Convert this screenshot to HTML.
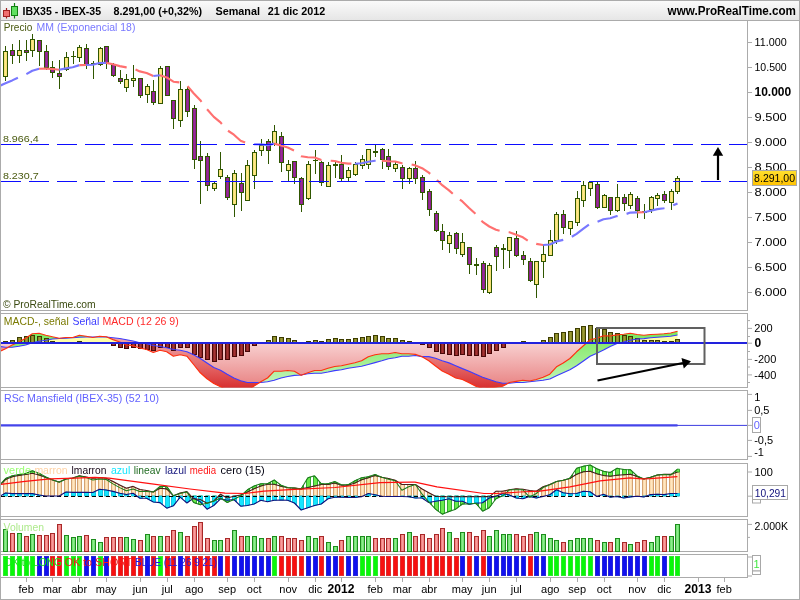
<!DOCTYPE html>
<html><head><meta charset="utf-8"><title>IBX35 - IBEX-35</title>
<style>html,body{margin:0;padding:0;background:#fff;overflow:hidden}svg{display:block}text{font-family:"Liberation Sans", Arial, sans-serif}</style></head><body>
<svg width="800" height="600" viewBox="0 0 800 600">
<defs>
<linearGradient id="pink" gradientUnits="userSpaceOnUse" x1="0" y1="343" x2="0" y2="388"><stop offset="0" stop-color="#f8d0d0"/><stop offset="1" stop-color="#e88080"/></linearGradient>
<linearGradient id="redg" gradientUnits="userSpaceOnUse" x1="0" y1="343" x2="0" y2="388"><stop offset="0" stop-color="#f0a0a0"/><stop offset="1" stop-color="#d83030"/></linearGradient>
<linearGradient id="grng" gradientUnits="userSpaceOnUse" x1="0" y1="325" x2="0" y2="388"><stop offset="0" stop-color="#70e850"/><stop offset="1" stop-color="#c8f4c0"/></linearGradient>
<linearGradient id="ylw" x1="0" y1="0" x2="0" y2="1"><stop offset="0" stop-color="#ffe030"/><stop offset="1" stop-color="#ffc200"/></linearGradient>
<linearGradient id="pur" x1="0" y1="0" x2="1" y2="0"><stop offset="0" stop-color="#7a1a80"/><stop offset="0.5" stop-color="#9a2a98"/><stop offset="1" stop-color="#7a1a80"/></linearGradient>
<linearGradient id="yel" x1="0" y1="0" x2="1" y2="0"><stop offset="0" stop-color="#f2d860"/><stop offset="0.5" stop-color="#fbe98a"/><stop offset="1" stop-color="#f2d860"/></linearGradient>
<linearGradient id="olv" x1="0" y1="0" x2="1" y2="0"><stop offset="0" stop-color="#78781c"/><stop offset="0.5" stop-color="#9a9a34"/><stop offset="1" stop-color="#78781c"/></linearGradient>
<linearGradient id="drd" x1="0" y1="0" x2="1" y2="0"><stop offset="0" stop-color="#7a1818"/><stop offset="0.5" stop-color="#a43434"/><stop offset="1" stop-color="#7a1818"/></linearGradient>
<linearGradient id="pch" x1="0" y1="0" x2="1" y2="0"><stop offset="0" stop-color="#f6cf9c"/><stop offset="0.5" stop-color="#ffe6c0"/><stop offset="1" stop-color="#f6cf9c"/></linearGradient>
<linearGradient id="vg" x1="0" y1="0" x2="1" y2="0"><stop offset="0" stop-color="#5cd85c"/><stop offset="0.5" stop-color="#8cec8c"/><stop offset="1" stop-color="#5cd85c"/></linearGradient>
<linearGradient id="vr" x1="0" y1="0" x2="1" y2="0"><stop offset="0" stop-color="#ea7070"/><stop offset="0.5" stop-color="#f89c9c"/><stop offset="1" stop-color="#ea7070"/></linearGradient>
<linearGradient id="tb" x1="0" y1="0" x2="0" y2="1"><stop offset="0" stop-color="#fbfbfb"/><stop offset="1" stop-color="#e6e6e6"/></linearGradient>
<clipPath id="cp1"><rect x="1" y="21" width="746" height="289"/></clipPath>
<clipPath id="cp2"><rect x="1" y="314" width="746" height="73.5"/></clipPath>
<clipPath id="cp4"><rect x="1" y="464" width="746" height="52"/></clipPath>
</defs>
<rect x="0" y="0" width="800" height="600" fill="#fff"/>
<rect x="0" y="0" width="800" height="20" fill="url(#tb)"/>
<rect x="0.5" y="0.5" width="799" height="599" fill="none" stroke="#ababab"/>
<line x1="0" y1="20.5" x2="800" y2="20.5" stroke="#ababab"/>
<g><line x1="6.5" y1="8" x2="6.5" y2="18.5" stroke="#a02020" stroke-width="1.2"/><rect x="3.5" y="10.5" width="6" height="6" fill="#f07070" stroke="#a02020"/><line x1="14.5" y1="3" x2="14.5" y2="18.5" stroke="#108010" stroke-width="1.2"/><rect x="11.5" y="6.5" width="6" height="9" fill="#60e060" stroke="#108010"/></g>
<text x="22.5" y="15" fill="#000" font-size="11px" font-weight="bold" textLength="78.5" lengthAdjust="spacingAndGlyphs">IBX35 - IBEX-35</text>
<text x="113.5" y="15" fill="#000" font-size="11px" font-weight="bold" textLength="88.5" lengthAdjust="spacingAndGlyphs">8.291,00 (+0,32%)</text>
<text x="215.5" y="15" fill="#000" font-size="11px" font-weight="bold" textLength="44.5" lengthAdjust="spacingAndGlyphs">Semanal</text>
<text x="267.7" y="15" fill="#000" font-size="11px" font-weight="bold" textLength="57.5" lengthAdjust="spacingAndGlyphs">21 dic 2012</text>
<text x="667.6" y="15" fill="#000" font-size="12px" font-weight="bold" textLength="128.4" lengthAdjust="spacingAndGlyphs">www.ProRealTime.com</text>
<line x1="0" y1="310.5" x2="748" y2="310.5" stroke="#ababab"/>
<line x1="747.5" y1="21" x2="747.5" y2="311" stroke="#ababab"/>
<line x1="0" y1="313.5" x2="748" y2="313.5" stroke="#ababab"/>
<line x1="0" y1="387.5" x2="748" y2="387.5" stroke="#ababab"/>
<line x1="747.5" y1="313" x2="747.5" y2="388" stroke="#ababab"/>
<line x1="0" y1="390.5" x2="748" y2="390.5" stroke="#ababab"/>
<line x1="0" y1="459.5" x2="748" y2="459.5" stroke="#ababab"/>
<line x1="747.5" y1="390" x2="747.5" y2="460" stroke="#ababab"/>
<line x1="0" y1="463.5" x2="748" y2="463.5" stroke="#ababab"/>
<line x1="0" y1="516.5" x2="748" y2="516.5" stroke="#ababab"/>
<line x1="747.5" y1="463" x2="747.5" y2="517" stroke="#ababab"/>
<line x1="0" y1="519.5" x2="748" y2="519.5" stroke="#ababab"/>
<line x1="0" y1="551.5" x2="748" y2="551.5" stroke="#ababab"/>
<line x1="747.5" y1="519" x2="747.5" y2="552" stroke="#ababab"/>
<line x1="0" y1="554.5" x2="748" y2="554.5" stroke="#ababab"/>
<line x1="0" y1="577.5" x2="748" y2="577.5" stroke="#ababab"/>
<line x1="747.5" y1="554" x2="747.5" y2="578" stroke="#ababab"/>
<g clip-path="url(#cp1)">
<rect x="5" y="46" width="1" height="35" fill="#2f5600"/>
<rect x="3.5" y="51.5" width="4" height="25" fill="url(#yel)" stroke="#2f5600" stroke-width="1"/>
<rect x="12" y="44" width="1" height="20" fill="#2f5600"/>
<rect x="10.5" y="50.5" width="4" height="5" fill="url(#pur)" stroke="#2f5600" stroke-width="1"/>
<rect x="19" y="40" width="1" height="23" fill="#2f5600"/>
<rect x="17.5" y="50.5" width="4" height="5" fill="url(#yel)" stroke="#2f5600" stroke-width="1"/>
<rect x="26" y="40" width="1" height="21" fill="#2f5600"/>
<rect x="24.5" y="50.5" width="4" height="2" fill="url(#pur)" stroke="#2f5600" stroke-width="1"/>
<rect x="32" y="34" width="1" height="23" fill="#2f5600"/>
<rect x="30.5" y="39.5" width="4" height="11" fill="url(#yel)" stroke="#2f5600" stroke-width="1"/>
<rect x="39" y="40" width="1" height="26" fill="#2f5600"/>
<rect x="37.5" y="40.5" width="4" height="11" fill="url(#pur)" stroke="#2f5600" stroke-width="1"/>
<rect x="46" y="45" width="1" height="25" fill="#2f5600"/>
<rect x="44.5" y="51.5" width="4" height="16" fill="url(#pur)" stroke="#2f5600" stroke-width="1"/>
<rect x="52" y="61" width="1" height="17" fill="#2f5600"/>
<rect x="50.5" y="67.5" width="4" height="5" fill="url(#pur)" stroke="#2f5600" stroke-width="1"/>
<rect x="59" y="60" width="1" height="29" fill="#2f5600"/>
<rect x="57.5" y="73.5" width="4" height="3" fill="url(#pur)" stroke="#2f5600" stroke-width="1"/>
<rect x="66" y="52" width="1" height="19" fill="#2f5600"/>
<rect x="64.5" y="57.5" width="4" height="12" fill="url(#yel)" stroke="#2f5600" stroke-width="1"/>
<rect x="73" y="51" width="1" height="13" fill="#2f5600"/>
<rect x="71" y="56" width="5" height="1" fill="#2f5600"/>
<rect x="79" y="45" width="1" height="17" fill="#2f5600"/>
<rect x="77.5" y="47.5" width="4" height="10" fill="url(#yel)" stroke="#2f5600" stroke-width="1"/>
<rect x="86" y="44" width="1" height="25" fill="#2f5600"/>
<rect x="84.5" y="48.5" width="4" height="16" fill="url(#pur)" stroke="#2f5600" stroke-width="1"/>
<rect x="93" y="61" width="1" height="18" fill="#2f5600"/>
<rect x="91" y="63" width="5" height="1" fill="#2f5600"/>
<rect x="100" y="47" width="1" height="19" fill="#2f5600"/>
<rect x="98.5" y="48.5" width="4" height="16" fill="url(#yel)" stroke="#2f5600" stroke-width="1"/>
<rect x="106" y="46" width="1" height="23" fill="#2f5600"/>
<rect x="104.5" y="46.5" width="4" height="16" fill="url(#pur)" stroke="#2f5600" stroke-width="1"/>
<rect x="113" y="63" width="1" height="14" fill="#2f5600"/>
<rect x="111.5" y="64.5" width="4" height="11" fill="url(#pur)" stroke="#2f5600" stroke-width="1"/>
<rect x="120" y="70" width="1" height="14" fill="#2f5600"/>
<rect x="118.5" y="78.5" width="4" height="3" fill="url(#pur)" stroke="#2f5600" stroke-width="1"/>
<rect x="126" y="74" width="1" height="18" fill="#2f5600"/>
<rect x="124.5" y="79.5" width="4" height="8" fill="url(#yel)" stroke="#2f5600" stroke-width="1"/>
<rect x="133" y="65" width="1" height="22" fill="#2f5600"/>
<rect x="131.5" y="78.5" width="4" height="2" fill="url(#yel)" stroke="#2f5600" stroke-width="1"/>
<rect x="140" y="78" width="1" height="20" fill="#2f5600"/>
<rect x="138.5" y="78.5" width="4" height="17" fill="url(#pur)" stroke="#2f5600" stroke-width="1"/>
<rect x="147" y="84" width="1" height="19" fill="#2f5600"/>
<rect x="145.5" y="86.5" width="4" height="8" fill="url(#yel)" stroke="#2f5600" stroke-width="1"/>
<rect x="153" y="80" width="1" height="25" fill="#2f5600"/>
<rect x="151.5" y="91.5" width="4" height="11" fill="url(#pur)" stroke="#2f5600" stroke-width="1"/>
<rect x="160" y="66" width="1" height="38" fill="#2f5600"/>
<rect x="158.5" y="68.5" width="4" height="35" fill="url(#yel)" stroke="#2f5600" stroke-width="1"/>
<rect x="167" y="66" width="1" height="30" fill="#2f5600"/>
<rect x="165.5" y="66.5" width="4" height="29" fill="url(#pur)" stroke="#2f5600" stroke-width="1"/>
<rect x="173" y="100" width="1" height="29" fill="#2f5600"/>
<rect x="171.5" y="100.5" width="4" height="18" fill="url(#pur)" stroke="#2f5600" stroke-width="1"/>
<rect x="180" y="81" width="1" height="46" fill="#2f5600"/>
<rect x="178.5" y="89.5" width="4" height="31" fill="url(#yel)" stroke="#2f5600" stroke-width="1"/>
<rect x="187" y="87" width="1" height="30" fill="#2f5600"/>
<rect x="185.5" y="89.5" width="4" height="22" fill="url(#pur)" stroke="#2f5600" stroke-width="1"/>
<rect x="194" y="105" width="1" height="64" fill="#2f5600"/>
<rect x="192.5" y="108.5" width="4" height="51" fill="url(#pur)" stroke="#2f5600" stroke-width="1"/>
<rect x="200" y="141" width="1" height="63" fill="#2f5600"/>
<rect x="198.5" y="156.5" width="4" height="4" fill="url(#pur)" stroke="#2f5600" stroke-width="1"/>
<rect x="207" y="153" width="1" height="38" fill="#2f5600"/>
<rect x="205.5" y="156.5" width="4" height="29" fill="url(#pur)" stroke="#2f5600" stroke-width="1"/>
<rect x="214" y="181" width="1" height="10" fill="#2f5600"/>
<rect x="212.5" y="183.5" width="4" height="5" fill="url(#yel)" stroke="#2f5600" stroke-width="1"/>
<rect x="220" y="152" width="1" height="27" fill="#2f5600"/>
<rect x="218.5" y="169.5" width="4" height="7" fill="url(#yel)" stroke="#2f5600" stroke-width="1"/>
<rect x="227" y="175" width="1" height="25" fill="#2f5600"/>
<rect x="225.5" y="177.5" width="4" height="20" fill="url(#pur)" stroke="#2f5600" stroke-width="1"/>
<rect x="234" y="170" width="1" height="47" fill="#2f5600"/>
<rect x="232.5" y="173.5" width="4" height="31" fill="url(#yel)" stroke="#2f5600" stroke-width="1"/>
<rect x="241" y="173" width="1" height="38" fill="#2f5600"/>
<rect x="239.5" y="183.5" width="4" height="9" fill="url(#pur)" stroke="#2f5600" stroke-width="1"/>
<rect x="247" y="160" width="1" height="40" fill="#2f5600"/>
<rect x="245.5" y="165.5" width="4" height="35" fill="url(#yel)" stroke="#2f5600" stroke-width="1"/>
<rect x="254" y="150" width="1" height="39" fill="#2f5600"/>
<rect x="252.5" y="152.5" width="4" height="23" fill="url(#yel)" stroke="#2f5600" stroke-width="1"/>
<rect x="261" y="139" width="1" height="17" fill="#2f5600"/>
<rect x="259.5" y="145.5" width="4" height="5" fill="url(#yel)" stroke="#2f5600" stroke-width="1"/>
<rect x="268" y="139" width="1" height="25" fill="#2f5600"/>
<rect x="266.5" y="141.5" width="4" height="9" fill="url(#pur)" stroke="#2f5600" stroke-width="1"/>
<rect x="274" y="125" width="1" height="21" fill="#2f5600"/>
<rect x="272.5" y="131.5" width="4" height="12" fill="url(#yel)" stroke="#2f5600" stroke-width="1"/>
<rect x="281" y="132" width="1" height="40" fill="#2f5600"/>
<rect x="279.5" y="136.5" width="4" height="26" fill="url(#pur)" stroke="#2f5600" stroke-width="1"/>
<rect x="288" y="160" width="1" height="22" fill="#2f5600"/>
<rect x="286.5" y="164.5" width="4" height="6" fill="url(#yel)" stroke="#2f5600" stroke-width="1"/>
<rect x="294" y="161" width="1" height="23" fill="#2f5600"/>
<rect x="292.5" y="161.5" width="4" height="16" fill="url(#pur)" stroke="#2f5600" stroke-width="1"/>
<rect x="301" y="177" width="1" height="35" fill="#2f5600"/>
<rect x="299.5" y="178.5" width="4" height="26" fill="url(#pur)" stroke="#2f5600" stroke-width="1"/>
<rect x="308" y="161" width="1" height="39" fill="#2f5600"/>
<rect x="306.5" y="164.5" width="4" height="34" fill="url(#yel)" stroke="#2f5600" stroke-width="1"/>
<rect x="315" y="150" width="1" height="24" fill="#2f5600"/>
<rect x="313" y="160" width="5" height="1" fill="#2f5600"/>
<rect x="321" y="161" width="1" height="25" fill="#2f5600"/>
<rect x="319.5" y="162.5" width="4" height="20" fill="url(#pur)" stroke="#2f5600" stroke-width="1"/>
<rect x="328" y="162" width="1" height="24" fill="#2f5600"/>
<rect x="326.5" y="165.5" width="4" height="21" fill="url(#yel)" stroke="#2f5600" stroke-width="1"/>
<rect x="335" y="162" width="1" height="16" fill="#2f5600"/>
<rect x="333" y="164" width="5" height="2" fill="#2f5600"/>
<rect x="341" y="155" width="1" height="26" fill="#2f5600"/>
<rect x="339.5" y="164.5" width="4" height="14" fill="url(#pur)" stroke="#2f5600" stroke-width="1"/>
<rect x="348" y="167" width="1" height="14" fill="#2f5600"/>
<rect x="346.5" y="170.5" width="4" height="7" fill="url(#yel)" stroke="#2f5600" stroke-width="1"/>
<rect x="355" y="162" width="1" height="14" fill="#2f5600"/>
<rect x="353.5" y="164.5" width="4" height="10" fill="url(#yel)" stroke="#2f5600" stroke-width="1"/>
<rect x="362" y="155" width="1" height="14" fill="#2f5600"/>
<rect x="360.5" y="159.5" width="4" height="6" fill="url(#yel)" stroke="#2f5600" stroke-width="1"/>
<rect x="368" y="149" width="1" height="20" fill="#2f5600"/>
<rect x="366.5" y="149.5" width="4" height="15" fill="url(#yel)" stroke="#2f5600" stroke-width="1"/>
<rect x="375" y="145" width="1" height="12" fill="#2f5600"/>
<rect x="373" y="151" width="5" height="2" fill="#2f5600"/>
<rect x="382" y="148" width="1" height="21" fill="#2f5600"/>
<rect x="380.5" y="149.5" width="4" height="10" fill="url(#pur)" stroke="#2f5600" stroke-width="1"/>
<rect x="388" y="149" width="1" height="21" fill="#2f5600"/>
<rect x="386.5" y="156.5" width="4" height="10" fill="url(#pur)" stroke="#2f5600" stroke-width="1"/>
<rect x="395" y="162" width="1" height="10" fill="#2f5600"/>
<rect x="393.5" y="164.5" width="4" height="4" fill="url(#yel)" stroke="#2f5600" stroke-width="1"/>
<rect x="402" y="165" width="1" height="24" fill="#2f5600"/>
<rect x="400.5" y="167.5" width="4" height="11" fill="url(#pur)" stroke="#2f5600" stroke-width="1"/>
<rect x="409" y="167" width="1" height="17" fill="#2f5600"/>
<rect x="407.5" y="168.5" width="4" height="10" fill="url(#yel)" stroke="#2f5600" stroke-width="1"/>
<rect x="415" y="161" width="1" height="23" fill="#2f5600"/>
<rect x="413.5" y="168.5" width="4" height="10" fill="url(#pur)" stroke="#2f5600" stroke-width="1"/>
<rect x="422" y="175" width="1" height="25" fill="#2f5600"/>
<rect x="420.5" y="177.5" width="4" height="15" fill="url(#pur)" stroke="#2f5600" stroke-width="1"/>
<rect x="429" y="189" width="1" height="27" fill="#2f5600"/>
<rect x="427.5" y="191.5" width="4" height="18" fill="url(#pur)" stroke="#2f5600" stroke-width="1"/>
<rect x="436" y="211" width="1" height="21" fill="#2f5600"/>
<rect x="434.5" y="213.5" width="4" height="17" fill="url(#pur)" stroke="#2f5600" stroke-width="1"/>
<rect x="442" y="224" width="1" height="26" fill="#2f5600"/>
<rect x="440.5" y="231.5" width="4" height="9" fill="url(#pur)" stroke="#2f5600" stroke-width="1"/>
<rect x="449" y="232" width="1" height="21" fill="#2f5600"/>
<rect x="447.5" y="235.5" width="4" height="8" fill="url(#yel)" stroke="#2f5600" stroke-width="1"/>
<rect x="456" y="232" width="1" height="22" fill="#2f5600"/>
<rect x="454.5" y="233.5" width="4" height="15" fill="url(#pur)" stroke="#2f5600" stroke-width="1"/>
<rect x="462" y="233" width="1" height="24" fill="#2f5600"/>
<rect x="460.5" y="242.5" width="4" height="12" fill="url(#yel)" stroke="#2f5600" stroke-width="1"/>
<rect x="469" y="247" width="1" height="27" fill="#2f5600"/>
<rect x="467.5" y="247.5" width="4" height="17" fill="url(#pur)" stroke="#2f5600" stroke-width="1"/>
<rect x="476" y="258" width="1" height="17" fill="#2f5600"/>
<rect x="474" y="264" width="5" height="2" fill="#2f5600"/>
<rect x="483" y="261" width="1" height="32" fill="#2f5600"/>
<rect x="481.5" y="263.5" width="4" height="26" fill="url(#pur)" stroke="#2f5600" stroke-width="1"/>
<rect x="489" y="263" width="1" height="31" fill="#2f5600"/>
<rect x="487.5" y="265.5" width="4" height="27" fill="url(#yel)" stroke="#2f5600" stroke-width="1"/>
<rect x="496" y="245" width="1" height="26" fill="#2f5600"/>
<rect x="494.5" y="247.5" width="4" height="9" fill="url(#pur)" stroke="#2f5600" stroke-width="1"/>
<rect x="503" y="244" width="1" height="25" fill="#2f5600"/>
<rect x="501" y="248" width="5" height="2" fill="#2f5600"/>
<rect x="509" y="237" width="1" height="31" fill="#2f5600"/>
<rect x="507.5" y="237.5" width="4" height="13" fill="url(#yel)" stroke="#2f5600" stroke-width="1"/>
<rect x="516" y="231" width="1" height="26" fill="#2f5600"/>
<rect x="514.5" y="238.5" width="4" height="17" fill="url(#pur)" stroke="#2f5600" stroke-width="1"/>
<rect x="523" y="251" width="1" height="14" fill="#2f5600"/>
<rect x="521.5" y="255.5" width="4" height="4" fill="url(#pur)" stroke="#2f5600" stroke-width="1"/>
<rect x="530" y="258" width="1" height="24" fill="#2f5600"/>
<rect x="528.5" y="261.5" width="4" height="19" fill="url(#pur)" stroke="#2f5600" stroke-width="1"/>
<rect x="536" y="261" width="1" height="37" fill="#2f5600"/>
<rect x="534.5" y="261.5" width="4" height="23" fill="url(#yel)" stroke="#2f5600" stroke-width="1"/>
<rect x="543" y="245" width="1" height="33" fill="#2f5600"/>
<rect x="541.5" y="254.5" width="4" height="7" fill="url(#yel)" stroke="#2f5600" stroke-width="1"/>
<rect x="550" y="230" width="1" height="25" fill="#2f5600"/>
<rect x="548.5" y="240.5" width="4" height="15" fill="url(#yel)" stroke="#2f5600" stroke-width="1"/>
<rect x="556" y="212" width="1" height="32" fill="#2f5600"/>
<rect x="554.5" y="214.5" width="4" height="26" fill="url(#yel)" stroke="#2f5600" stroke-width="1"/>
<rect x="563" y="210" width="1" height="24" fill="#2f5600"/>
<rect x="561.5" y="214.5" width="4" height="13" fill="url(#pur)" stroke="#2f5600" stroke-width="1"/>
<rect x="570" y="221" width="1" height="14" fill="#2f5600"/>
<rect x="568.5" y="221.5" width="4" height="7" fill="url(#yel)" stroke="#2f5600" stroke-width="1"/>
<rect x="577" y="191" width="1" height="35" fill="#2f5600"/>
<rect x="575.5" y="198.5" width="4" height="24" fill="url(#yel)" stroke="#2f5600" stroke-width="1"/>
<rect x="583" y="181" width="1" height="26" fill="#2f5600"/>
<rect x="581.5" y="185.5" width="4" height="15" fill="url(#yel)" stroke="#2f5600" stroke-width="1"/>
<rect x="590" y="181" width="1" height="15" fill="#2f5600"/>
<rect x="588.5" y="182.5" width="4" height="6" fill="url(#yel)" stroke="#2f5600" stroke-width="1"/>
<rect x="597" y="182" width="1" height="27" fill="#2f5600"/>
<rect x="595.5" y="184.5" width="4" height="23" fill="url(#pur)" stroke="#2f5600" stroke-width="1"/>
<rect x="604" y="194" width="1" height="13" fill="#2f5600"/>
<rect x="602.5" y="195.5" width="4" height="12" fill="url(#yel)" stroke="#2f5600" stroke-width="1"/>
<rect x="610" y="197" width="1" height="18" fill="#2f5600"/>
<rect x="608.5" y="197.5" width="4" height="13" fill="url(#pur)" stroke="#2f5600" stroke-width="1"/>
<rect x="617" y="184" width="1" height="28" fill="#2f5600"/>
<rect x="615.5" y="197.5" width="4" height="13" fill="url(#yel)" stroke="#2f5600" stroke-width="1"/>
<rect x="624" y="194" width="1" height="17" fill="#2f5600"/>
<rect x="622.5" y="197.5" width="4" height="6" fill="url(#pur)" stroke="#2f5600" stroke-width="1"/>
<rect x="630" y="192" width="1" height="17" fill="#2f5600"/>
<rect x="628.5" y="194.5" width="4" height="11" fill="url(#yel)" stroke="#2f5600" stroke-width="1"/>
<rect x="637" y="196" width="1" height="22" fill="#2f5600"/>
<rect x="635.5" y="198.5" width="4" height="12" fill="url(#pur)" stroke="#2f5600" stroke-width="1"/>
<rect x="644" y="204" width="1" height="15" fill="#2f5600"/>
<rect x="642" y="211" width="5" height="2" fill="#2f5600"/>
<rect x="651" y="196" width="1" height="17" fill="#2f5600"/>
<rect x="649.5" y="197.5" width="4" height="12" fill="url(#yel)" stroke="#2f5600" stroke-width="1"/>
<rect x="657" y="193" width="1" height="13" fill="#2f5600"/>
<rect x="655.5" y="195.5" width="4" height="3" fill="url(#yel)" stroke="#2f5600" stroke-width="1"/>
<rect x="664" y="191" width="1" height="12" fill="#2f5600"/>
<rect x="662.5" y="194.5" width="4" height="6" fill="url(#pur)" stroke="#2f5600" stroke-width="1"/>
<rect x="671" y="189" width="1" height="21" fill="#2f5600"/>
<rect x="669.5" y="191.5" width="4" height="11" fill="url(#yel)" stroke="#2f5600" stroke-width="1"/>
<rect x="677" y="176" width="1" height="18" fill="#2f5600"/>
<rect x="675.5" y="178.5" width="4" height="13" fill="url(#yel)" stroke="#2f5600" stroke-width="1"/>
<polyline points="-1.3,86.2 5.5,83.3 12.2,80.4 18.9,77.2 25.6,74.6 32.3,70.8 39.1,68.8" fill="none" stroke="#7878ff" stroke-width="2.15" stroke-dasharray="21 9.2" stroke-linejoin="round"/>
<polyline points="39.1,68.8 45.8,68.6 52.5,69.0 59.2,69.8" fill="none" stroke="#ff7070" stroke-width="2.15" stroke-dasharray="21 9.2" stroke-linejoin="round"/>
<polyline points="59.2,69.8 65.9,68.4 72.7,67.2 79.4,65.1" fill="none" stroke="#7878ff" stroke-width="2.15" stroke-dasharray="21 9.2" stroke-linejoin="round"/>
<polyline points="79.4,65.1 86.1,65.0" fill="none" stroke="#ff7070" stroke-width="2.15" stroke-dasharray="21 9.2" stroke-linejoin="round"/>
<polyline points="86.1,65.0 92.8,64.8 99.5,63.0 106.2,62.9" fill="none" stroke="#7878ff" stroke-width="2.15" stroke-dasharray="21 9.2" stroke-linejoin="round"/>
<polyline points="106.2,62.9 113.0,64.2 119.7,66.1 126.4,67.4 133.1,68.5 139.8,71.4 146.6,73.0 153.3,76.0" fill="none" stroke="#ff7070" stroke-width="2.15" stroke-dasharray="21 9.2" stroke-linejoin="round"/>
<polyline points="153.3,76.0 160.0,75.2" fill="none" stroke="#7878ff" stroke-width="2.15" stroke-dasharray="21 9.2" stroke-linejoin="round"/>
<polyline points="160.0,75.2 166.7,77.4 173.4,81.7 180.2,82.4 186.9,85.4 193.6,93.2 200.3,100.2 207.0,109.1 213.8,116.9 220.5,122.4 227.2,130.2 233.9,134.7 240.6,140.8 247.4,143.4 254.1,144.3" fill="none" stroke="#ff7070" stroke-width="2.15" stroke-dasharray="21 9.2" stroke-linejoin="round"/>
<polyline points="254.1,144.3 260.8,144.4 267.5,145.1 274.2,143.6" fill="none" stroke="#7878ff" stroke-width="2.15" stroke-dasharray="21 9.2" stroke-linejoin="round"/>
<polyline points="274.2,143.6 281.0,145.5 287.7,147.5 294.4,150.7 301.1,156.3 307.8,157.2 314.6,157.5 321.3,160.1 328.0,160.6 334.7,161.0 341.4,162.8 348.2,163.6 354.9,163.7" fill="none" stroke="#ff7070" stroke-width="2.15" stroke-dasharray="21 9.2" stroke-linejoin="round"/>
<polyline points="354.9,163.7 361.6,163.2 368.3,161.8 375.0,160.8 381.8,160.6" fill="none" stroke="#7878ff" stroke-width="2.15" stroke-dasharray="21 9.2" stroke-linejoin="round"/>
<polyline points="381.8,160.6 388.5,161.2 395.2,161.5 401.9,163.3 408.6,163.8 415.4,165.4 422.1,168.2 428.8,172.6 435.5,178.7 442.2,185.2 449.0,190.4 455.7,196.5 462.4,201.4 469.1,208.0 475.8,214.0 482.6,221.9 489.3,226.5 496.0,229.7 502.7,231.7 509.4,232.3 516.2,234.7 522.9,237.3 529.6,241.9 536.3,243.9 543.1,245.0" fill="none" stroke="#ff7070" stroke-width="2.15" stroke-dasharray="21 9.2" stroke-linejoin="round"/>
<polyline points="543.1,245.0 549.8,244.5 556.5,241.4 563.2,239.9 569.9,237.9 576.6,233.8 583.4,228.7 590.1,223.7 596.8,222.0 603.5,219.2 610.2,218.3 617.0,216.1 623.7,214.8 630.4,212.6 637.1,212.4" fill="none" stroke="#7878ff" stroke-width="2.15" stroke-dasharray="21 9.2" stroke-linejoin="round"/>
<polyline points="637.1,212.4 643.9,212.3" fill="none" stroke="#ff7070" stroke-width="2.15" stroke-dasharray="21 9.2" stroke-linejoin="round"/>
<polyline points="643.9,212.3 650.6,210.8 657.3,209.1 664.0,208.2 670.7,206.4 677.5,203.5" fill="none" stroke="#7878ff" stroke-width="2.15" stroke-dasharray="21 9.2" stroke-linejoin="round"/>
<line x1="1" y1="144.5" x2="747" y2="144.5" stroke="#0c0cff" stroke-width="1.1" stroke-dasharray="20 8"/>
<line x1="1" y1="181.5" x2="747" y2="181.5" stroke="#0c0cff" stroke-width="1.1" stroke-dasharray="20 8"/>
</g>
<text x="3.75" y="31" fill="#4a5a10" font-size="11px" textLength="28.5" lengthAdjust="spacingAndGlyphs">Precio</text>
<text x="36.6" y="31" fill="#7878ff" font-size="11px" textLength="98.8" lengthAdjust="spacingAndGlyphs">MM (Exponencial 18)</text>
<text x="2.9" y="141.9" fill="#4a5a10" font-size="9.7px" textLength="35.8" lengthAdjust="spacingAndGlyphs">8.966,4</text>
<text x="2.9" y="178.9" fill="#4a5a10" font-size="9.7px" textLength="35.8" lengthAdjust="spacingAndGlyphs">8.230,7</text>
<text x="3" y="307.6" fill="#3a4a10" font-size="11px" textLength="92.7" lengthAdjust="spacingAndGlyphs">© ProRealTime.com</text>
<line x1="718" y1="180" x2="718" y2="154" stroke="#000" stroke-width="2.2"/><polygon points="718,147 712.8,155.8 723.2,155.8" fill="#000"/>
<line x1="748" y1="292.5" x2="752" y2="292.5" stroke="#ababab"/>
<text x="754.5" y="295.9" fill="#000" font-size="11px" textLength="32.2" lengthAdjust="spacingAndGlyphs">6.000</text>
<line x1="748" y1="267.5" x2="752" y2="267.5" stroke="#ababab"/>
<text x="754.5" y="270.9" fill="#000" font-size="11px" textLength="32.2" lengthAdjust="spacingAndGlyphs">6.500</text>
<line x1="748" y1="242.5" x2="752" y2="242.5" stroke="#ababab"/>
<text x="754.5" y="245.89999999999998" fill="#000" font-size="11px" textLength="32.2" lengthAdjust="spacingAndGlyphs">7.000</text>
<line x1="748" y1="217.5" x2="752" y2="217.5" stroke="#ababab"/>
<text x="754.5" y="220.89999999999998" fill="#000" font-size="11px" textLength="32.2" lengthAdjust="spacingAndGlyphs">7.500</text>
<line x1="748" y1="192.5" x2="752" y2="192.5" stroke="#ababab"/>
<text x="754.5" y="195.89999999999998" fill="#000" font-size="11px" textLength="32.2" lengthAdjust="spacingAndGlyphs">8.000</text>
<line x1="748" y1="167.5" x2="752" y2="167.5" stroke="#ababab"/>
<text x="754.5" y="170.89999999999998" fill="#000" font-size="11px" textLength="32.2" lengthAdjust="spacingAndGlyphs">8.500</text>
<line x1="748" y1="142.5" x2="752" y2="142.5" stroke="#ababab"/>
<text x="754.5" y="145.89999999999998" fill="#000" font-size="11px" textLength="32.2" lengthAdjust="spacingAndGlyphs">9.000</text>
<line x1="748" y1="117.5" x2="752" y2="117.5" stroke="#ababab"/>
<text x="754.5" y="120.9" fill="#000" font-size="11px" textLength="32.2" lengthAdjust="spacingAndGlyphs">9.500</text>
<line x1="748" y1="92.5" x2="752" y2="92.5" stroke="#ababab"/>
<text x="754.5" y="95.8" fill="#000" font-size="12px" font-weight="bold" textLength="36.7" lengthAdjust="spacingAndGlyphs">10.000</text>
<line x1="748" y1="67.5" x2="752" y2="67.5" stroke="#ababab"/>
<text x="754.5" y="70.9" fill="#000" font-size="11px" textLength="32.2" lengthAdjust="spacingAndGlyphs">10.500</text>
<line x1="748" y1="42.5" x2="752" y2="42.5" stroke="#ababab"/>
<text x="754.5" y="45.900000000000006" fill="#000" font-size="11px" textLength="32.2" lengthAdjust="spacingAndGlyphs">11.000</text>
<rect x="752.5" y="170.5" width="44" height="15" fill="url(#ylw)" stroke="#a8a8a8"/>
<text x="754.1" y="181.8" fill="#000" font-size="11px" textLength="41" lengthAdjust="spacingAndGlyphs">8.291,00</text>
<g clip-path="url(#cp2)">
<polygon points="0.5,343.0 0.5,351.2 5.5,348.8 12.2,347.2 18.9,346.2 25.6,345.0 32.3,343.0 39.1,343.0 45.8,343.0 52.5,343.0 59.2,343.0 65.9,343.0 72.7,343.0 79.4,343.0 86.1,343.0 92.8,343.0 99.5,343.0 106.2,343.0 113.0,343.0 119.7,343.0 126.4,345.0 133.1,345.8 139.8,348.0 146.6,349.5 153.3,352.5 160.0,350.2 166.7,351.8 173.4,356.2 180.2,354.8 186.9,356.2 193.6,364.5 200.3,372.8 207.0,378.8 213.8,383.5 220.5,386.7 227.2,390.7 233.9,391.5 240.6,393.0 247.4,391.0 254.1,386.0 260.8,382.5 267.5,381.8 274.2,380.2 281.0,378.0 287.7,376.5 294.4,375.4 301.1,375.3 307.8,373.8 314.6,373.2 321.3,373.2 328.0,372.0 334.7,370.6 341.4,369.8 348.2,368.2 354.9,367.2 361.6,366.3 368.3,364.5 375.0,362.6 381.8,360.8 388.5,358.8 395.2,357.8 401.9,356.2 408.6,356.2 415.4,355.5 422.1,356.7 428.8,360.8 435.5,366.0 442.2,371.0 449.0,374.2 455.7,378.0 462.4,379.5 469.1,382.8 475.8,386.2 482.6,388.5 489.3,387.8 496.0,387.3 502.7,386.2 509.4,383.2 516.2,382.5 522.9,382.5 529.6,381.8 536.3,381.0 543.1,380.2 549.8,379.0 556.5,375.8 563.2,372.8 569.9,369.8 576.6,365.7 583.4,361.0 590.1,356.2 596.8,353.2 603.5,350.0 610.2,346.5 617.0,343.5 623.7,343.0 630.4,343.0 637.1,343.0 643.9,343.0 650.6,343.0 657.3,343.0 664.0,343.0 670.7,343.0 677.5,343.0 677.5,343.0" fill="url(#pink)" />
<polygon points="0.5,343.0 0.5,343.0 5.5,343.0 12.2,343.0 18.9,342.0 25.6,338.2 32.3,333.8 39.1,333.3 45.8,335.2 52.5,336.8 59.2,338.2 65.9,337.5 72.7,337.5 79.4,335.2 86.1,336.3 92.8,337.0 99.5,336.3 106.2,336.8 113.0,337.7 119.7,338.5 126.4,339.8 133.1,341.0 139.8,342.8 146.6,343.0 153.3,343.0 160.0,343.0 166.7,343.0 173.4,343.0 180.2,343.0 186.9,343.0 193.6,343.0 200.3,343.0 207.0,343.0 213.8,343.0 220.5,343.0 227.2,343.0 233.9,343.0 240.6,343.0 247.4,343.0 254.1,343.0 260.8,343.0 267.5,343.0 274.2,343.0 281.0,343.0 287.7,343.0 294.4,343.0 301.1,343.0 307.8,343.0 314.6,343.0 321.3,343.0 328.0,343.0 334.7,343.0 341.4,343.0 348.2,343.0 354.9,343.0 361.6,343.0 368.3,343.0 375.0,343.0 381.8,343.0 388.5,343.0 395.2,343.0 401.9,343.0 408.6,343.0 415.4,343.0 422.1,343.0 428.8,343.0 435.5,343.0 442.2,343.0 449.0,343.0 455.7,343.0 462.4,343.0 469.1,343.0 475.8,343.0 482.6,343.0 489.3,343.0 496.0,343.0 502.7,343.0 509.4,343.0 516.2,343.0 522.9,343.0 529.6,343.0 536.3,343.0 543.1,343.0 549.8,343.0 556.5,343.0 563.2,343.0 569.9,343.0 576.6,343.0 583.4,343.0 590.1,339.8 596.8,338.2 603.5,335.7 610.2,336.0 617.0,334.9 623.7,334.2 630.4,333.3 637.1,334.5 643.9,335.2 650.6,334.5 657.3,334.2 664.0,333.8 670.7,333.0 677.5,331.2 677.5,343.0" fill="#ffffa8" />
<polygon points="0.5,351.2 5.5,348.8 8.1,347.2 8.1,347.2 5.5,347.2 0.5,346.6" fill="url(#redg)" />
<polygon points="8.1,347.2 12.2,345.0 18.9,342.0 25.6,338.2 32.3,333.8 39.1,333.3 45.8,335.2 52.5,336.8 59.2,338.2 65.9,337.5 72.7,337.5 79.4,335.2 86.1,336.3 90.0,337.0 90.0,337.0 86.1,337.0 79.4,337.2 72.7,337.8 65.9,338.2 59.2,338.5 52.5,339.0 45.8,340.2 39.1,341.2 32.3,342.8 25.6,345.0 18.9,346.2 12.2,347.2 8.1,347.2" fill="url(#grng)" />
<polygon points="90.0,337.0 92.8,337.5 95.6,337.0 95.6,337.0 92.8,337.0 90.0,337.0" fill="url(#redg)" />
<polygon points="95.6,337.0 99.5,336.3 106.2,336.8 107.0,337.1 107.0,337.1 106.2,337.0 99.5,337.0 95.6,337.0" fill="url(#grng)" />
<polygon points="107.0,337.1 113.0,339.6 119.7,342.0 126.4,345.0 133.1,345.8 139.8,348.0 146.6,349.5 153.3,352.5 160.0,350.2 166.7,351.8 173.4,356.2 180.2,354.8 186.9,356.2 193.6,364.5 200.3,372.8 207.0,378.8 213.8,383.5 220.5,386.7 227.2,390.7 233.9,391.5 240.6,393.0 247.4,391.0 254.1,386.0 259.6,382.5 259.6,382.5 254.1,382.5 247.4,382.5 240.6,380.7 233.9,378.0 227.2,374.2 220.5,370.2 213.8,367.5 207.0,363.0 200.3,358.5 193.6,354.8 186.9,351.8 180.2,350.2 173.4,349.5 166.7,347.7 160.0,346.5 153.3,345.5 146.6,343.8 139.8,342.8 133.1,341.0 126.4,339.8 119.7,338.5 113.0,337.7 107.0,337.1" fill="url(#redg)" />
<polygon points="259.6,382.5 260.8,381.8 267.5,378.0 274.2,371.2 281.0,371.2 287.7,370.5 294.4,371.2 300.7,375.0 300.7,375.0 294.4,375.4 287.7,376.5 281.0,378.0 274.2,380.2 267.5,381.8 260.8,382.5 259.6,382.5" fill="url(#grng)" />
<polygon points="300.7,375.0 301.1,375.3 302.6,374.7 302.6,374.7 301.1,375.0 300.7,375.0" fill="url(#redg)" />
<polygon points="302.6,374.7 307.8,372.8 314.6,370.5 321.3,370.5 328.0,368.2 334.7,366.5 341.4,365.7 348.2,364.2 354.9,362.7 361.6,360.8 368.3,356.7 375.0,354.8 381.8,353.7 388.5,353.7 395.2,352.5 401.9,353.7 408.6,353.7 415.4,354.4 421.3,356.4 421.3,356.4 415.4,355.5 408.6,356.2 401.9,356.2 395.2,357.8 388.5,358.8 381.8,360.8 375.0,362.6 368.3,364.5 361.6,366.3 354.9,367.2 348.2,368.2 341.4,369.8 334.7,370.6 328.0,372.0 321.3,373.2 314.6,373.2 307.8,373.8 302.6,374.7" fill="url(#grng)" />
<polygon points="421.3,356.4 422.1,356.7 428.8,360.8 435.5,366.0 442.2,371.0 449.0,374.2 455.7,378.0 462.4,379.5 469.1,382.8 475.8,386.2 482.6,388.5 489.3,387.8 496.0,387.3 502.7,386.2 508.1,383.2 508.1,383.2 502.7,383.2 496.0,381.8 489.3,379.5 482.6,377.2 475.8,374.2 469.1,371.2 462.4,368.6 455.7,365.7 449.0,362.9 442.2,360.8 435.5,358.2 428.8,356.6 422.1,356.6 421.3,356.4" fill="url(#redg)" />
<polygon points="508.1,383.2 509.4,382.5 516.2,381.4 522.9,380.2 529.6,381.0 536.3,379.5 543.1,377.2 549.8,374.2 556.5,366.8 563.2,363.0 569.9,358.5 576.6,351.8 583.4,345.8 590.1,339.8 596.8,338.2 603.5,335.7 610.2,336.0 617.0,334.9 623.7,334.2 630.4,333.3 637.1,334.5 643.9,335.2 650.6,334.5 657.3,334.2 664.0,333.8 670.7,333.0 677.5,331.2 677.5,335.0 670.7,336.3 664.0,336.8 657.3,337.2 650.6,337.8 643.9,338.6 637.1,339.0 630.4,340.2 623.7,342.0 617.0,343.5 610.2,346.5 603.5,350.0 596.8,353.2 590.1,356.2 583.4,361.0 576.6,365.7 569.9,369.8 563.2,372.8 556.5,375.8 549.8,379.0 543.1,380.2 536.3,381.0 529.6,381.8 522.9,382.5 516.2,382.5 509.4,383.2 508.1,383.2" fill="url(#grng)" />
<rect x="3.5" y="341.5" width="4" height="1.5" fill="url(#olv)" stroke="#3c3c00" stroke-width="1"/>
<rect x="10.5" y="340.5" width="4" height="2.5" fill="url(#olv)" stroke="#3c3c00" stroke-width="1"/>
<rect x="17.5" y="337.5" width="4" height="5.5" fill="url(#olv)" stroke="#3c3c00" stroke-width="1"/>
<rect x="24.5" y="336.5" width="4" height="6.5" fill="url(#olv)" stroke="#3c3c00" stroke-width="1"/>
<rect x="30.5" y="335.5" width="4" height="7.5" fill="url(#olv)" stroke="#3c3c00" stroke-width="1"/>
<rect x="37.5" y="336.5" width="4" height="6.5" fill="url(#olv)" stroke="#3c3c00" stroke-width="1"/>
<rect x="44.5" y="338.5" width="4" height="4.5" fill="url(#olv)" stroke="#3c3c00" stroke-width="1"/>
<rect x="50.5" y="341.5" width="4" height="1.5" fill="url(#olv)" stroke="#3c3c00" stroke-width="1"/>
<rect x="77.5" y="341.5" width="4" height="1.5" fill="url(#olv)" stroke="#3c3c00" stroke-width="1"/>
<rect x="111.5" y="343" width="4" height="2.5" fill="url(#drd)" stroke="#480808" stroke-width="1"/>
<rect x="118.5" y="343" width="4" height="4.5" fill="url(#drd)" stroke="#480808" stroke-width="1"/>
<rect x="124.5" y="343" width="4" height="5.5" fill="url(#drd)" stroke="#480808" stroke-width="1"/>
<rect x="131.5" y="343" width="4" height="4.5" fill="url(#drd)" stroke="#480808" stroke-width="1"/>
<rect x="138.5" y="343" width="4" height="5.5" fill="url(#drd)" stroke="#480808" stroke-width="1"/>
<rect x="145.5" y="343" width="4" height="6.5" fill="url(#drd)" stroke="#480808" stroke-width="1"/>
<rect x="151.5" y="343" width="4" height="7.5" fill="url(#drd)" stroke="#480808" stroke-width="1"/>
<rect x="158.5" y="343" width="4" height="4.5" fill="url(#drd)" stroke="#480808" stroke-width="1"/>
<rect x="165.5" y="343" width="4" height="4.5" fill="url(#drd)" stroke="#480808" stroke-width="1"/>
<rect x="171.5" y="343" width="4" height="7.5" fill="url(#drd)" stroke="#480808" stroke-width="1"/>
<rect x="178.5" y="343" width="4" height="4.5" fill="url(#drd)" stroke="#480808" stroke-width="1"/>
<rect x="185.5" y="343" width="4" height="4.5" fill="url(#drd)" stroke="#480808" stroke-width="1"/>
<rect x="192.5" y="343" width="4" height="11.5" fill="url(#drd)" stroke="#480808" stroke-width="1"/>
<rect x="198.5" y="343" width="4" height="14.5" fill="url(#drd)" stroke="#480808" stroke-width="1"/>
<rect x="205.5" y="343" width="4" height="16.5" fill="url(#drd)" stroke="#480808" stroke-width="1"/>
<rect x="212.5" y="343" width="4" height="18.5" fill="url(#drd)" stroke="#480808" stroke-width="1"/>
<rect x="218.5" y="343" width="4" height="16.5" fill="url(#drd)" stroke="#480808" stroke-width="1"/>
<rect x="225.5" y="343" width="4" height="16.5" fill="url(#drd)" stroke="#480808" stroke-width="1"/>
<rect x="232.5" y="343" width="4" height="13.5" fill="url(#drd)" stroke="#480808" stroke-width="1"/>
<rect x="239.5" y="343" width="4" height="12.5" fill="url(#drd)" stroke="#480808" stroke-width="1"/>
<rect x="245.5" y="343" width="4" height="8.5" fill="url(#drd)" stroke="#480808" stroke-width="1"/>
<rect x="252.5" y="343" width="4" height="2.5" fill="url(#drd)" stroke="#480808" stroke-width="1"/>
<rect x="266.5" y="340.5" width="4" height="2.5" fill="url(#olv)" stroke="#3c3c00" stroke-width="1"/>
<rect x="272.5" y="336.5" width="4" height="6.5" fill="url(#olv)" stroke="#3c3c00" stroke-width="1"/>
<rect x="279.5" y="337.5" width="4" height="5.5" fill="url(#olv)" stroke="#3c3c00" stroke-width="1"/>
<rect x="286.5" y="338.5" width="4" height="4.5" fill="url(#olv)" stroke="#3c3c00" stroke-width="1"/>
<rect x="292.5" y="340.5" width="4" height="2.5" fill="url(#olv)" stroke="#3c3c00" stroke-width="1"/>
<rect x="306.5" y="341.5" width="4" height="1.5" fill="url(#olv)" stroke="#3c3c00" stroke-width="1"/>
<rect x="313.5" y="340.5" width="4" height="2.5" fill="url(#olv)" stroke="#3c3c00" stroke-width="1"/>
<rect x="319.5" y="341.5" width="4" height="1.5" fill="url(#olv)" stroke="#3c3c00" stroke-width="1"/>
<rect x="326.5" y="339.5" width="4" height="3.5" fill="url(#olv)" stroke="#3c3c00" stroke-width="1"/>
<rect x="333.5" y="338.5" width="4" height="4.5" fill="url(#olv)" stroke="#3c3c00" stroke-width="1"/>
<rect x="339.5" y="339.5" width="4" height="3.5" fill="url(#olv)" stroke="#3c3c00" stroke-width="1"/>
<rect x="346.5" y="339.5" width="4" height="3.5" fill="url(#olv)" stroke="#3c3c00" stroke-width="1"/>
<rect x="353.5" y="338.5" width="4" height="4.5" fill="url(#olv)" stroke="#3c3c00" stroke-width="1"/>
<rect x="360.5" y="337.5" width="4" height="5.5" fill="url(#olv)" stroke="#3c3c00" stroke-width="1"/>
<rect x="366.5" y="336.5" width="4" height="6.5" fill="url(#olv)" stroke="#3c3c00" stroke-width="1"/>
<rect x="373.5" y="335.5" width="4" height="7.5" fill="url(#olv)" stroke="#3c3c00" stroke-width="1"/>
<rect x="380.5" y="336.5" width="4" height="6.5" fill="url(#olv)" stroke="#3c3c00" stroke-width="1"/>
<rect x="386.5" y="338.5" width="4" height="4.5" fill="url(#olv)" stroke="#3c3c00" stroke-width="1"/>
<rect x="393.5" y="338.5" width="4" height="4.5" fill="url(#olv)" stroke="#3c3c00" stroke-width="1"/>
<rect x="400.5" y="340.5" width="4" height="2.5" fill="url(#olv)" stroke="#3c3c00" stroke-width="1"/>
<rect x="407.5" y="341.5" width="4" height="1.5" fill="url(#olv)" stroke="#3c3c00" stroke-width="1"/>
<rect x="420.5" y="343" width="4" height="1.5" fill="url(#drd)" stroke="#480808" stroke-width="1"/>
<rect x="427.5" y="343" width="4" height="4.5" fill="url(#drd)" stroke="#480808" stroke-width="1"/>
<rect x="434.5" y="343" width="4" height="8.5" fill="url(#drd)" stroke="#480808" stroke-width="1"/>
<rect x="440.5" y="343" width="4" height="10.5" fill="url(#drd)" stroke="#480808" stroke-width="1"/>
<rect x="447.5" y="343" width="4" height="11.5" fill="url(#drd)" stroke="#480808" stroke-width="1"/>
<rect x="454.5" y="343" width="4" height="12.5" fill="url(#drd)" stroke="#480808" stroke-width="1"/>
<rect x="460.5" y="343" width="4" height="11.5" fill="url(#drd)" stroke="#480808" stroke-width="1"/>
<rect x="467.5" y="343" width="4" height="12.5" fill="url(#drd)" stroke="#480808" stroke-width="1"/>
<rect x="474.5" y="343" width="4" height="12.5" fill="url(#drd)" stroke="#480808" stroke-width="1"/>
<rect x="481.5" y="343" width="4" height="13.5" fill="url(#drd)" stroke="#480808" stroke-width="1"/>
<rect x="487.5" y="343" width="4" height="10.5" fill="url(#drd)" stroke="#480808" stroke-width="1"/>
<rect x="494.5" y="343" width="4" height="7.5" fill="url(#drd)" stroke="#480808" stroke-width="1"/>
<rect x="501.5" y="343" width="4" height="4.5" fill="url(#drd)" stroke="#480808" stroke-width="1"/>
<rect x="521.5" y="341.5" width="4" height="1.5" fill="url(#olv)" stroke="#3c3c00" stroke-width="1"/>
<rect x="541.5" y="340.5" width="4" height="2.5" fill="url(#olv)" stroke="#3c3c00" stroke-width="1"/>
<rect x="548.5" y="337.5" width="4" height="5.5" fill="url(#olv)" stroke="#3c3c00" stroke-width="1"/>
<rect x="554.5" y="333.5" width="4" height="9.5" fill="url(#olv)" stroke="#3c3c00" stroke-width="1"/>
<rect x="561.5" y="332.5" width="4" height="10.5" fill="url(#olv)" stroke="#3c3c00" stroke-width="1"/>
<rect x="568.5" y="331.5" width="4" height="11.5" fill="url(#olv)" stroke="#3c3c00" stroke-width="1"/>
<rect x="575.5" y="328.5" width="4" height="14.5" fill="url(#olv)" stroke="#3c3c00" stroke-width="1"/>
<rect x="581.5" y="326.5" width="4" height="16.5" fill="url(#olv)" stroke="#3c3c00" stroke-width="1"/>
<rect x="588.5" y="325.5" width="4" height="17.5" fill="url(#olv)" stroke="#3c3c00" stroke-width="1"/>
<rect x="595.5" y="328.5" width="4" height="14.5" fill="url(#olv)" stroke="#3c3c00" stroke-width="1"/>
<rect x="602.5" y="329.5" width="4" height="13.5" fill="url(#olv)" stroke="#3c3c00" stroke-width="1"/>
<rect x="608.5" y="332.5" width="4" height="10.5" fill="url(#olv)" stroke="#3c3c00" stroke-width="1"/>
<rect x="615.5" y="333.5" width="4" height="9.5" fill="url(#olv)" stroke="#3c3c00" stroke-width="1"/>
<rect x="622.5" y="335.5" width="4" height="7.5" fill="url(#olv)" stroke="#3c3c00" stroke-width="1"/>
<rect x="628.5" y="336.5" width="4" height="6.5" fill="url(#olv)" stroke="#3c3c00" stroke-width="1"/>
<rect x="635.5" y="338.5" width="4" height="4.5" fill="url(#olv)" stroke="#3c3c00" stroke-width="1"/>
<rect x="642.5" y="340.5" width="4" height="2.5" fill="url(#olv)" stroke="#3c3c00" stroke-width="1"/>
<rect x="649.5" y="340.5" width="4" height="2.5" fill="url(#olv)" stroke="#3c3c00" stroke-width="1"/>
<rect x="655.5" y="340.5" width="4" height="2.5" fill="url(#olv)" stroke="#3c3c00" stroke-width="1"/>
<rect x="662.5" y="341.5" width="4" height="1.5" fill="url(#olv)" stroke="#3c3c00" stroke-width="1"/>
<rect x="669.5" y="341.5" width="4" height="1.5" fill="url(#olv)" stroke="#3c3c00" stroke-width="1"/>
<rect x="675.5" y="339.5" width="4" height="3.5" fill="url(#olv)" stroke="#3c3c00" stroke-width="1"/>
<polyline points="0.5,346.6 5.5,347.2 12.2,347.2 18.9,346.2 25.6,345.0 32.3,342.8 39.1,341.2 45.8,340.2 52.5,339.0 59.2,338.5 65.9,338.2 72.7,337.8 79.4,337.2 86.1,337.0 92.8,337.0 99.5,337.0 106.2,337.0 113.0,337.7 119.7,338.5 126.4,339.8 133.1,341.0 139.8,342.8 146.6,343.8 153.3,345.5 160.0,346.5 166.7,347.7 173.4,349.5 180.2,350.2 186.9,351.8 193.6,354.8 200.3,358.5 207.0,363.0 213.8,367.5 220.5,370.2 227.2,374.2 233.9,378.0 240.6,380.7 247.4,382.5 254.1,382.5 260.8,382.5 267.5,381.8 274.2,380.2 281.0,378.0 287.7,376.5 294.4,375.4 301.1,375.0 307.8,373.8 314.6,373.2 321.3,373.2 328.0,372.0 334.7,370.6 341.4,369.8 348.2,368.2 354.9,367.2 361.6,366.3 368.3,364.5 375.0,362.6 381.8,360.8 388.5,358.8 395.2,357.8 401.9,356.2 408.6,356.2 415.4,355.5 422.1,356.6 428.8,356.6 435.5,358.2 442.2,360.8 449.0,362.9 455.7,365.7 462.4,368.6 469.1,371.2 475.8,374.2 482.6,377.2 489.3,379.5 496.0,381.8 502.7,383.2 509.4,383.2 516.2,382.5 522.9,382.5 529.6,381.8 536.3,381.0 543.1,380.2 549.8,379.0 556.5,375.8 563.2,372.8 569.9,369.8 576.6,365.7 583.4,361.0 590.1,356.2 596.8,353.2 603.5,350.0 610.2,346.5 617.0,343.5 623.7,342.0 630.4,340.2 637.1,339.0 643.9,338.6 650.6,337.8 657.3,337.2 664.0,336.8 670.7,336.3 677.5,335.0" fill="none" stroke="#3c3cff" stroke-width="1.15" stroke-linejoin="round"/>
<polyline points="0.5,351.2 5.5,348.8 12.2,345.0 18.9,342.0 25.6,338.2 32.3,333.8 39.1,333.3 45.8,335.2 52.5,336.8 59.2,338.2 65.9,337.5 72.7,337.5 79.4,335.2 86.1,336.3 92.8,337.5 99.5,336.3 106.2,336.8 113.0,339.6 119.7,342.0 126.4,345.0 133.1,345.8 139.8,348.0 146.6,349.5 153.3,352.5 160.0,350.2 166.7,351.8 173.4,356.2 180.2,354.8 186.9,356.2 193.6,364.5 200.3,372.8 207.0,378.8 213.8,383.5 220.5,386.7 227.2,390.7 233.9,391.5 240.6,393.0 247.4,391.0 254.1,386.0 260.8,381.8 267.5,378.0 274.2,371.2 281.0,371.2 287.7,370.5 294.4,371.2 301.1,375.3 307.8,372.8 314.6,370.5 321.3,370.5 328.0,368.2 334.7,366.5 341.4,365.7 348.2,364.2 354.9,362.7 361.6,360.8 368.3,356.7 375.0,354.8 381.8,353.7 388.5,353.7 395.2,352.5 401.9,353.7 408.6,353.7 415.4,354.4 422.1,356.7 428.8,360.8 435.5,366.0 442.2,371.0 449.0,374.2 455.7,378.0 462.4,379.5 469.1,382.8 475.8,386.2 482.6,388.5 489.3,387.8 496.0,387.3 502.7,386.2 509.4,382.5 516.2,381.4 522.9,380.2 529.6,381.0 536.3,379.5 543.1,377.2 549.8,374.2 556.5,366.8 563.2,363.0 569.9,358.5 576.6,351.8 583.4,345.8 590.1,339.8 596.8,338.2 603.5,335.7 610.2,336.0 617.0,334.9 623.7,334.2 630.4,333.3 637.1,334.5 643.9,335.2 650.6,334.5 657.3,334.2 664.0,333.8 670.7,333.0 677.5,331.2" fill="none" stroke="#ff3010" stroke-width="1.15" stroke-linejoin="round"/>
</g>
<line x1="1" y1="343" x2="747" y2="343" stroke="#2222dd" stroke-width="2.2"/>
<rect x="597" y="328" width="107.5" height="36" fill="none" stroke="#606060" stroke-width="2"/>
<line x1="597.5" y1="380.5" x2="683" y2="363" stroke="#000" stroke-width="2.2"/><polygon points="691,361.2 681.5,358 683.8,368.5" fill="#000"/>
<text x="3.75" y="325.2" fill="#7a7a00" font-size="11px" textLength="65" lengthAdjust="spacingAndGlyphs">MACD-, señal</text>
<text x="72.5" y="325.2" fill="#3c3cff" font-size="11px" textLength="26.75" lengthAdjust="spacingAndGlyphs">Señal</text>
<text x="102.5" y="325.2" fill="#ff2a2a" font-size="11px" textLength="76.25" lengthAdjust="spacingAndGlyphs">MACD (12 26 9)</text>
<line x1="748" y1="328.4" x2="752" y2="328.4" stroke="#ababab"/>
<text x="754.3" y="332.09999999999997" fill="#000" font-size="11px">200</text>
<line x1="748" y1="343.2" x2="752" y2="343.2" stroke="#ababab"/>
<text x="754.5" y="347.0" fill="#000" font-size="12px" font-weight="bold">0</text>
<line x1="748" y1="359.4" x2="752" y2="359.4" stroke="#ababab"/>
<text x="754.3" y="363.09999999999997" fill="#000" font-size="11px">-200</text>
<line x1="748" y1="374.9" x2="752" y2="374.9" stroke="#ababab"/>
<text x="754.3" y="378.59999999999997" fill="#000" font-size="11px">-400</text>
<line x1="748" y1="320.6" x2="750" y2="320.6" stroke="#ababab"/>
<line x1="748" y1="336.5" x2="750" y2="336.5" stroke="#ababab"/>
<line x1="748" y1="351.5" x2="750" y2="351.5" stroke="#ababab"/>
<line x1="748" y1="367.0" x2="750" y2="367.0" stroke="#ababab"/>
<line x1="748" y1="382.5" x2="750" y2="382.5" stroke="#ababab"/>
<line x1="1" y1="425.4" x2="677.5" y2="425.4" stroke="#4444ea" stroke-width="2.1"/>
<line x1="677" y1="425.4" x2="747" y2="425.4" stroke="#3c3ce0" stroke-width="1"/>
<text x="4" y="402" fill="#6262ff" font-size="11px" textLength="155" lengthAdjust="spacingAndGlyphs">RSc Mansfield (IBEX-35) (52 10)</text>
<line x1="748" y1="394.4" x2="752" y2="394.4" stroke="#ababab"/>
<text x="754.2" y="400.7" fill="#000" font-size="11px">1</text>
<line x1="748" y1="410.4" x2="752" y2="410.4" stroke="#ababab"/>
<text x="754.2" y="414" fill="#000" font-size="11px">0,5</text>
<line x1="748" y1="440.4" x2="752" y2="440.4" stroke="#ababab"/>
<text x="754.2" y="444" fill="#000" font-size="11px">-0,5</text>
<line x1="748" y1="456.4" x2="752" y2="456.4" stroke="#ababab"/>
<text x="754.2" y="456.4" fill="#000" font-size="11px">-1</text>
<line x1="748" y1="425.4" x2="752" y2="425.4" stroke="#ababab"/>
<rect x="752.5" y="417.5" width="8" height="15" fill="#fff" stroke="#a8a8a8"/>
<text x="753.8" y="428.8" fill="#6262ff" font-size="11px">0</text>
<g clip-path="url(#cp4)">
<polygon points="3.5,481.6 5.5,479.5 7.5,478.7 7.5,496.0 5.5,496.0 3.5,496.0" fill="url(#pch)" stroke="#cf9a66" stroke-width="0.9"/>
<polygon points="3.5,480.7 5.5,478.5 7.5,477.7 7.5,478.7 5.5,479.5 3.5,481.6" fill="#6aea4c" stroke="#22a022" stroke-width="0.9"/>
<polygon points="3.5,494.1 5.5,493.0 7.5,493.2 7.5,496.0 5.5,496.0 3.5,496.0" fill="#14e6ff" stroke="#0cc0e0" stroke-width="0.9"/>
<polygon points="10.5,477.4 12.5,476.7 14.5,476.3 14.5,496.0 12.5,496.0 10.5,496.0" fill="url(#pch)" stroke="#cf9a66" stroke-width="0.9"/>
<polygon points="10.5,476.5 12.5,475.7 14.5,475.3 14.5,476.3 12.5,476.7 10.5,477.4" fill="#6aea4c" stroke="#22a022" stroke-width="0.9"/>
<polygon points="10.5,493.5 12.5,493.6 14.5,493.6 14.5,496.0 12.5,496.0 10.5,496.0" fill="#14e6ff" stroke="#0cc0e0" stroke-width="0.9"/>
<polygon points="17.5,475.7 19.5,475.3 21.5,475.1 21.5,496.0 19.5,496.0 17.5,496.0" fill="url(#pch)" stroke="#cf9a66" stroke-width="0.9"/>
<polygon points="17.5,474.8 19.5,474.4 21.5,474.1 21.5,475.1 19.5,475.3 17.5,475.7" fill="#6aea4c" stroke="#22a022" stroke-width="0.9"/>
<polygon points="17.5,493.6 19.5,493.6 21.5,493.6 21.5,496.0 19.5,496.0 17.5,496.0" fill="#14e6ff" stroke="#0cc0e0" stroke-width="0.9"/>
<polygon points="24.5,474.6 26.5,474.3 28.5,474.0 28.5,496.0 26.5,496.0 24.5,496.0" fill="url(#pch)" stroke="#cf9a66" stroke-width="0.9"/>
<polygon points="24.5,473.7 26.5,473.1 28.5,472.3 28.5,474.0 26.5,474.3 24.5,474.6" fill="#6aea4c" stroke="#22a022" stroke-width="0.9"/>
<polygon points="24.5,493.6 26.5,493.6 28.5,493.6 28.5,496.0 26.5,496.0 24.5,496.0" fill="#14e6ff" stroke="#0cc0e0" stroke-width="0.9"/>
<polygon points="30.5,473.6 32.5,473.3 34.5,473.8 34.5,496.0 32.5,496.0 30.5,496.0" fill="url(#pch)" stroke="#cf9a66" stroke-width="0.9"/>
<polygon points="30.5,471.5 32.5,470.8 34.5,471.6 34.5,473.8 32.5,473.3 30.5,473.6" fill="#6aea4c" stroke="#22a022" stroke-width="0.9"/>
<polygon points="30.5,493.6 32.5,493.6 34.5,494.1 34.5,496.0 32.5,496.0 30.5,496.0" fill="#14e6ff" stroke="#0cc0e0" stroke-width="0.9"/>
<polygon points="37.5,474.6 39.5,475.2 41.5,475.9 41.5,496.0 39.5,496.0 37.5,496.0" fill="url(#pch)" stroke="#cf9a66" stroke-width="0.9"/>
<polygon points="37.5,472.7 39.5,473.5 41.5,474.6 41.5,475.9 39.5,475.2 37.5,474.6" fill="#6aea4c" stroke="#22a022" stroke-width="0.9"/>
<polygon points="37.5,494.7 39.5,495.1 41.5,495.4 41.5,496.0 39.5,496.0 37.5,496.0" fill="#14e6ff" stroke="#0cc0e0" stroke-width="0.9"/>
<polygon points="44.5,477.1 46.5,477.9 48.5,478.6 48.5,496.0 46.5,496.0 44.5,496.0" fill="url(#pch)" stroke="#cf9a66" stroke-width="0.9"/>
<polygon points="44.5,476.3 46.5,477.3 48.5,478.1 48.5,478.6 46.5,477.9 44.5,477.1" fill="#6aea4c" stroke="#22a022" stroke-width="0.9"/>
<polygon points="50.5,479.3 52.5,480.0 54.5,480.6 54.5,496.0 52.5,496.0 50.5,496.0" fill="url(#pch)" stroke="#cf9a66" stroke-width="0.9"/>
<polygon points="57.5,481.5 59.5,481.9 61.5,480.9 61.5,496.0 59.5,496.0 57.5,496.0" fill="url(#pch)" stroke="#cf9a66" stroke-width="0.9"/>
<polygon points="64.5,479.6 66.5,478.8 68.5,478.6 68.5,496.0 66.5,496.0 64.5,496.0" fill="url(#pch)" stroke="#cf9a66" stroke-width="0.9"/>
<polygon points="64.5,492.9 66.5,492.0 68.5,492.2 68.5,496.0 66.5,496.0 64.5,496.0" fill="#14e6ff" stroke="#0cc0e0" stroke-width="0.9"/>
<polygon points="71.5,478.2 73.5,477.7 75.5,477.0 75.5,496.0 73.5,496.0 71.5,496.0" fill="url(#pch)" stroke="#cf9a66" stroke-width="0.9"/>
<polygon points="71.5,492.3 73.5,492.4 75.5,492.4 75.5,496.0 73.5,496.0 71.5,496.0" fill="#14e6ff" stroke="#0cc0e0" stroke-width="0.9"/>
<polygon points="77.5,476.4 79.5,475.8 81.5,476.1 81.5,496.0 79.5,496.0 77.5,496.0" fill="url(#pch)" stroke="#cf9a66" stroke-width="0.9"/>
<polygon points="77.5,492.4 79.5,492.4 81.5,492.4 81.5,496.0 79.5,496.0 77.5,496.0" fill="#14e6ff" stroke="#0cc0e0" stroke-width="0.9"/>
<polygon points="84.5,476.7 86.5,477.1 88.5,477.4 88.5,496.0 86.5,496.0 84.5,496.0" fill="url(#pch)" stroke="#cf9a66" stroke-width="0.9"/>
<polygon points="84.5,492.4 86.5,492.4 88.5,492.4 88.5,496.0 86.5,496.0 84.5,496.0" fill="#14e6ff" stroke="#0cc0e0" stroke-width="0.9"/>
<polygon points="91.5,478.0 93.5,478.2 95.5,478.0 95.5,496.0 93.5,496.0 91.5,496.0" fill="url(#pch)" stroke="#cf9a66" stroke-width="0.9"/>
<polygon points="91.5,492.5 93.5,492.2 95.5,491.2 95.5,496.0 93.5,496.0 91.5,496.0" fill="#14e6ff" stroke="#0cc0e0" stroke-width="0.9"/>
<polygon points="98.5,477.7 100.5,477.7 102.5,477.9 102.5,496.0 100.5,496.0 98.5,496.0" fill="url(#pch)" stroke="#cf9a66" stroke-width="0.9"/>
<polygon points="98.5,489.7 100.5,489.4 102.5,489.6 102.5,496.0 100.5,496.0 98.5,496.0" fill="#14e6ff" stroke="#0cc0e0" stroke-width="0.9"/>
<polygon points="104.5,478.1 106.5,478.4 108.5,479.3 108.5,496.0 106.5,496.0 104.5,496.0" fill="url(#pch)" stroke="#cf9a66" stroke-width="0.9"/>
<polygon points="104.5,489.8 106.5,490.1 108.5,490.5 108.5,496.0 106.5,496.0 104.5,496.0" fill="#14e6ff" stroke="#0cc0e0" stroke-width="0.9"/>
<polygon points="111.5,480.7 113.5,481.7 115.5,482.8 115.5,496.0 113.5,496.0 111.5,496.0" fill="url(#pch)" stroke="#cf9a66" stroke-width="0.9"/>
<polygon points="111.5,491.1 113.5,491.5 115.5,492.1 115.5,496.0 113.5,496.0 111.5,496.0" fill="#14e6ff" stroke="#0cc0e0" stroke-width="0.9"/>
<polygon points="118.5,484.4 120.5,485.4 122.5,486.4 122.5,496.0 120.5,496.0 118.5,496.0" fill="url(#pch)" stroke="#cf9a66" stroke-width="0.9"/>
<polygon points="118.5,492.9 120.5,493.4 122.5,493.8 122.5,496.0 120.5,496.0 118.5,496.0" fill="#14e6ff" stroke="#0cc0e0" stroke-width="0.9"/>
<polygon points="124.5,487.3 126.5,488.2 128.5,487.7 128.5,496.0 126.5,496.0 124.5,496.0" fill="url(#pch)" stroke="#cf9a66" stroke-width="0.9"/>
<polygon points="124.5,494.1 126.5,494.5 128.5,494.1 128.5,496.0 126.5,496.0 124.5,496.0" fill="#14e6ff" stroke="#0cc0e0" stroke-width="0.9"/>
<polygon points="131.5,486.8 133.5,486.6 135.5,487.5 135.5,496.0 133.5,496.0 131.5,496.0" fill="url(#pch)" stroke="#cf9a66" stroke-width="0.9"/>
<polygon points="131.5,493.6 133.5,493.5 135.5,495.0 135.5,496.0 133.5,496.0 131.5,496.0" fill="#14e6ff" stroke="#0cc0e0" stroke-width="0.9"/>
<polygon points="138.5,488.9 140.5,489.6 142.5,489.9 142.5,496.0 140.5,496.0 138.5,496.0" fill="url(#pch)" stroke="#cf9a66" stroke-width="0.9"/>
<polygon points="138.5,496.0 140.5,496.0 142.5,496.0 142.5,498.2 140.5,498.2 138.5,497.2" fill="#14e6ff" stroke="#0cc0e0" stroke-width="0.9"/>
<polygon points="145.5,490.3 147.5,490.7 149.5,491.2 149.5,496.0 147.5,496.0 145.5,496.0" fill="url(#pch)" stroke="#cf9a66" stroke-width="0.9"/>
<polygon points="145.5,496.0 147.5,496.0 149.5,496.0 149.5,499.9 147.5,498.8 145.5,498.2" fill="#14e6ff" stroke="#0cc0e0" stroke-width="0.9"/>
<polygon points="151.5,491.6 153.5,491.9 155.5,490.8 155.5,496.0 153.5,496.0 151.5,496.0" fill="url(#pch)" stroke="#cf9a66" stroke-width="0.9"/>
<polygon points="151.5,496.0 153.5,496.0 155.5,496.0 155.5,502.2 153.5,502.0 151.5,501.0" fill="#14e6ff" stroke="#0cc0e0" stroke-width="0.9"/>
<polygon points="158.5,489.1 160.5,488.3 162.5,488.5 162.5,496.0 160.5,496.0 158.5,496.0" fill="url(#pch)" stroke="#cf9a66" stroke-width="0.9"/>
<polygon points="158.5,487.7 160.5,486.4 162.5,486.4 162.5,488.5 160.5,488.3 158.5,489.1" fill="#6aea4c" stroke="#22a022" stroke-width="0.9"/>
<polygon points="158.5,496.0 160.5,496.0 162.5,496.0 162.5,504.7 160.5,503.0 158.5,502.5" fill="#14e6ff" stroke="#0cc0e0" stroke-width="0.9"/>
<polygon points="165.5,488.8 167.5,489.7 169.5,491.7 169.5,496.0 167.5,496.0 165.5,496.0" fill="url(#pch)" stroke="#cf9a66" stroke-width="0.9"/>
<polygon points="165.5,486.4 167.5,487.5 169.5,490.3 169.5,491.7 167.5,489.7 165.5,488.8" fill="#6aea4c" stroke="#22a022" stroke-width="0.9"/>
<polygon points="165.5,496.0 167.5,496.0 169.5,496.0 169.5,507.2 167.5,508.0 165.5,507.2" fill="#14e6ff" stroke="#0cc0e0" stroke-width="0.9"/>
<polygon points="171.5,496.0 173.5,496.0 175.5,496.0 175.5,503.1 173.5,505.7 171.5,506.5" fill="#14e6ff" stroke="#0cc0e0" stroke-width="0.9"/>
<polygon points="178.5,493.7 180.5,492.9 182.5,492.5 182.5,496.0 180.5,496.0 178.5,496.0" fill="url(#pch)" stroke="#cf9a66" stroke-width="0.9"/>
<polygon points="178.5,496.0 180.5,496.0 182.5,496.0 182.5,499.2 180.5,497.5 178.5,499.3" fill="#14e6ff" stroke="#0cc0e0" stroke-width="0.9"/>
<polygon points="185.5,491.8 187.5,492.2 189.5,494.3 189.5,496.0 187.5,496.0 185.5,496.0" fill="url(#pch)" stroke="#cf9a66" stroke-width="0.9"/>
<polygon points="185.5,496.0 187.5,496.0 189.5,496.0 189.5,501.1 187.5,502.5 185.5,501.8" fill="#14e6ff" stroke="#0cc0e0" stroke-width="0.9"/>
<polygon points="192.5,496.0 194.5,496.0 196.5,496.0 196.5,503.5 194.5,502.8 192.5,500.8" fill="#6aea4c" stroke="#22a022" stroke-width="0.9"/>
<polygon points="192.5,496.0 194.5,496.0 196.5,496.0 196.5,499.6 194.5,498.5 192.5,498.8" fill="#14e6ff" stroke="#0cc0e0" stroke-width="0.9"/>
<polygon points="198.5,496.0 200.5,496.0 202.5,496.0 202.5,504.3 200.5,504.7 198.5,504.1" fill="#6aea4c" stroke="#22a022" stroke-width="0.9"/>
<polygon points="198.5,496.0 200.5,496.0 202.5,496.0 202.5,504.2 200.5,501.9 198.5,500.7" fill="#14e6ff" stroke="#0cc0e0" stroke-width="0.9"/>
<polygon points="205.5,496.0 207.5,496.0 209.5,496.0 209.5,502.4 207.5,503.1 205.5,503.6" fill="#6aea4c" stroke="#22a022" stroke-width="0.9"/>
<polygon points="205.5,496.0 207.5,496.0 209.5,496.0 209.5,507.9 207.5,509.0 205.5,507.5" fill="#14e6ff" stroke="#0cc0e0" stroke-width="0.9"/>
<polygon points="212.5,496.0 214.5,496.0 216.5,496.0 216.5,499.8 214.5,500.7 212.5,501.4" fill="#6aea4c" stroke="#22a022" stroke-width="0.9"/>
<polygon points="212.5,496.0 214.5,496.0 216.5,496.0 216.5,502.8 214.5,504.8 212.5,506.2" fill="#14e6ff" stroke="#0cc0e0" stroke-width="0.9"/>
<polygon points="218.5,496.0 220.5,494.3 222.5,495.4 222.5,496.0 220.5,496.0 218.5,496.0" fill="url(#pch)" stroke="#cf9a66" stroke-width="0.9"/>
<polygon points="218.5,496.0 220.5,496.0 222.5,496.0 222.5,499.3 220.5,498.0 218.5,498.9" fill="#6aea4c" stroke="#22a022" stroke-width="0.9"/>
<polygon points="218.5,496.0 220.5,496.0 222.5,496.0 222.5,499.2 220.5,498.8 218.5,500.7" fill="#14e6ff" stroke="#0cc0e0" stroke-width="0.9"/>
<polygon points="225.5,496.0 227.5,496.0 229.5,496.0 229.5,501.5 227.5,502.4 225.5,501.4" fill="#6aea4c" stroke="#22a022" stroke-width="0.9"/>
<polygon points="225.5,496.0 227.5,496.0 229.5,496.0 229.5,500.0 227.5,500.2 225.5,499.9" fill="#14e6ff" stroke="#0cc0e0" stroke-width="0.9"/>
<polygon points="232.5,496.0 234.5,496.0 236.5,496.0 236.5,498.1 234.5,499.2 232.5,500.1" fill="#6aea4c" stroke="#22a022" stroke-width="0.9"/>
<polygon points="232.5,496.0 234.5,496.0 236.5,496.0 236.5,502.1 234.5,500.1 232.5,499.7" fill="#14e6ff" stroke="#0cc0e0" stroke-width="0.9"/>
<polygon points="239.5,495.2 241.5,494.6 243.5,493.7 243.5,496.0 241.5,496.0 239.5,496.0" fill="url(#pch)" stroke="#cf9a66" stroke-width="0.9"/>
<polygon points="239.5,496.0 241.5,496.0 243.5,496.0 243.5,505.9 241.5,506.2 239.5,505.1" fill="#14e6ff" stroke="#0cc0e0" stroke-width="0.9"/>
<polygon points="245.5,492.8 247.5,491.9 249.5,491.0 249.5,496.0 247.5,496.0 245.5,496.0" fill="url(#pch)" stroke="#cf9a66" stroke-width="0.9"/>
<polygon points="245.5,491.4 247.5,489.7 249.5,488.6 249.5,491.0 247.5,491.9 245.5,492.8" fill="#6aea4c" stroke="#22a022" stroke-width="0.9"/>
<polygon points="245.5,496.0 247.5,496.0 249.5,496.0 249.5,505.0 247.5,505.5 245.5,505.7" fill="#14e6ff" stroke="#0cc0e0" stroke-width="0.9"/>
<polygon points="252.5,489.5 254.5,488.5 256.5,487.7 256.5,496.0 254.5,496.0 252.5,496.0" fill="url(#pch)" stroke="#cf9a66" stroke-width="0.9"/>
<polygon points="252.5,486.9 254.5,485.9 256.5,485.2 256.5,487.7 254.5,488.5 252.5,489.5" fill="#6aea4c" stroke="#22a022" stroke-width="0.9"/>
<polygon points="252.5,496.0 254.5,496.0 256.5,496.0 256.5,502.7 254.5,503.8 252.5,504.4" fill="#14e6ff" stroke="#0cc0e0" stroke-width="0.9"/>
<polygon points="259.5,486.5 261.5,485.8 263.5,485.3 263.5,496.0 261.5,496.0 259.5,496.0" fill="url(#pch)" stroke="#cf9a66" stroke-width="0.9"/>
<polygon points="259.5,484.2 261.5,483.8 263.5,483.8 263.5,485.3 261.5,485.8 259.5,486.5" fill="#6aea4c" stroke="#22a022" stroke-width="0.9"/>
<polygon points="259.5,496.0 261.5,496.0 263.5,496.0 263.5,500.9 261.5,500.4 259.5,501.0" fill="#14e6ff" stroke="#0cc0e0" stroke-width="0.9"/>
<polygon points="266.5,484.5 268.5,484.2 270.5,484.2 270.5,496.0 268.5,496.0 266.5,496.0" fill="url(#pch)" stroke="#cf9a66" stroke-width="0.9"/>
<polygon points="266.5,483.8 268.5,483.2 270.5,482.1 270.5,484.2 268.5,484.2 266.5,484.5" fill="#6aea4c" stroke="#22a022" stroke-width="0.9"/>
<polygon points="266.5,496.0 268.5,496.0 270.5,496.0 270.5,501.1 268.5,501.5 266.5,501.5" fill="#14e6ff" stroke="#0cc0e0" stroke-width="0.9"/>
<polygon points="272.5,484.2 274.5,484.3 276.5,484.9 276.5,496.0 274.5,496.0 272.5,496.0" fill="url(#pch)" stroke="#cf9a66" stroke-width="0.9"/>
<polygon points="272.5,481.0 274.5,480.2 276.5,481.8 276.5,484.9 274.5,484.3 272.5,484.2" fill="#6aea4c" stroke="#22a022" stroke-width="0.9"/>
<polygon points="272.5,496.0 274.5,496.0 276.5,496.0 276.5,500.2 274.5,500.2 272.5,500.6" fill="#14e6ff" stroke="#0cc0e0" stroke-width="0.9"/>
<polygon points="279.5,485.8 281.5,486.4 283.5,486.9 283.5,496.0 281.5,496.0 279.5,496.0" fill="url(#pch)" stroke="#cf9a66" stroke-width="0.9"/>
<polygon points="279.5,484.1 281.5,485.4 283.5,486.1 283.5,486.9 281.5,486.4 279.5,485.8" fill="#6aea4c" stroke="#22a022" stroke-width="0.9"/>
<polygon points="279.5,496.0 281.5,496.0 283.5,496.0 283.5,500.1 281.5,500.0 279.5,500.1" fill="#14e6ff" stroke="#0cc0e0" stroke-width="0.9"/>
<polygon points="286.5,487.5 288.5,487.8 290.5,487.9 290.5,496.0 288.5,496.0 286.5,496.0" fill="url(#pch)" stroke="#cf9a66" stroke-width="0.9"/>
<polygon points="286.5,496.0 288.5,496.0 290.5,496.0 290.5,501.4 288.5,500.6 286.5,500.2" fill="#14e6ff" stroke="#0cc0e0" stroke-width="0.9"/>
<polygon points="292.5,488.0 294.5,488.1 296.5,488.3 296.5,496.0 294.5,496.0 292.5,496.0" fill="url(#pch)" stroke="#cf9a66" stroke-width="0.9"/>
<polygon points="292.5,496.0 294.5,496.0 296.5,496.0 296.5,505.2 294.5,503.1 292.5,502.2" fill="#14e6ff" stroke="#0cc0e0" stroke-width="0.9"/>
<polygon points="299.5,488.7 301.5,488.8 303.5,488.4 303.5,496.0 301.5,496.0 299.5,496.0" fill="url(#pch)" stroke="#cf9a66" stroke-width="0.9"/>
<polygon points="299.5,488.7 301.5,488.3 303.5,485.0 303.5,488.4 301.5,488.8 299.5,488.7" fill="#6aea4c" stroke="#22a022" stroke-width="0.9"/>
<polygon points="299.5,496.0 301.5,496.0 303.5,496.0 303.5,509.2 301.5,509.9 299.5,508.3" fill="#14e6ff" stroke="#0cc0e0" stroke-width="0.9"/>
<polygon points="306.5,487.8 308.5,487.4 310.5,486.9 310.5,496.0 308.5,496.0 306.5,496.0" fill="url(#pch)" stroke="#cf9a66" stroke-width="0.9"/>
<polygon points="306.5,480.0 308.5,477.6 310.5,477.0 310.5,486.9 308.5,487.4 306.5,487.8" fill="#6aea4c" stroke="#22a022" stroke-width="0.9"/>
<polygon points="306.5,496.0 308.5,496.0 310.5,496.0 310.5,506.9 308.5,507.5 306.5,508.2" fill="#14e6ff" stroke="#0cc0e0" stroke-width="0.9"/>
<polygon points="313.5,486.2 315.5,485.8 317.5,485.3 317.5,496.0 315.5,496.0 313.5,496.0" fill="url(#pch)" stroke="#cf9a66" stroke-width="0.9"/>
<polygon points="313.5,476.1 315.5,476.9 317.5,479.3 317.5,485.3 315.5,485.8 313.5,486.2" fill="#6aea4c" stroke="#22a022" stroke-width="0.9"/>
<polygon points="313.5,496.0 315.5,496.0 317.5,496.0 317.5,504.8 315.5,505.3 313.5,505.9" fill="#14e6ff" stroke="#0cc0e0" stroke-width="0.9"/>
<polygon points="319.5,484.9 321.5,484.5 323.5,484.5 323.5,496.0 321.5,496.0 319.5,496.0" fill="url(#pch)" stroke="#cf9a66" stroke-width="0.9"/>
<polygon points="319.5,481.6 321.5,483.8 323.5,483.8 323.5,484.5 321.5,484.5 319.5,484.9" fill="#6aea4c" stroke="#22a022" stroke-width="0.9"/>
<polygon points="319.5,496.0 321.5,496.0 323.5,496.0 323.5,502.3 321.5,503.8 319.5,504.4" fill="#14e6ff" stroke="#0cc0e0" stroke-width="0.9"/>
<polygon points="326.5,484.5 328.5,484.4 330.5,483.9 330.5,496.0 328.5,496.0 326.5,496.0" fill="url(#pch)" stroke="#cf9a66" stroke-width="0.9"/>
<polygon points="326.5,483.8 328.5,483.6 330.5,482.9 330.5,483.9 328.5,484.4 326.5,484.5" fill="#6aea4c" stroke="#22a022" stroke-width="0.9"/>
<polygon points="326.5,496.0 328.5,496.0 330.5,496.0 330.5,498.2 328.5,498.6 326.5,499.9" fill="#14e6ff" stroke="#0cc0e0" stroke-width="0.9"/>
<polygon points="333.5,483.3 335.5,483.3 337.5,483.9 337.5,496.0 335.5,496.0 333.5,496.0" fill="url(#pch)" stroke="#cf9a66" stroke-width="0.9"/>
<polygon points="333.5,481.9 335.5,481.9 337.5,482.9 337.5,483.9 335.5,483.3 333.5,483.3" fill="#6aea4c" stroke="#22a022" stroke-width="0.9"/>
<polygon points="333.5,496.0 335.5,496.0 337.5,496.0 337.5,497.2 335.5,497.2 333.5,497.5" fill="#14e6ff" stroke="#0cc0e0" stroke-width="0.9"/>
<polygon points="339.5,484.6 341.5,485.2 343.5,485.2 343.5,496.0 341.5,496.0 339.5,496.0" fill="url(#pch)" stroke="#cf9a66" stroke-width="0.9"/>
<polygon points="339.5,496.0 341.5,496.0 343.5,496.0 343.5,497.3 341.5,497.3 339.5,497.2" fill="#14e6ff" stroke="#0cc0e0" stroke-width="0.9"/>
<polygon points="346.5,485.2 348.5,485.1 350.5,484.5 350.5,496.0 348.5,496.0 346.5,496.0" fill="url(#pch)" stroke="#cf9a66" stroke-width="0.9"/>
<polygon points="346.5,484.8 348.5,484.6 350.5,483.4 350.5,484.5 348.5,485.1 346.5,485.2" fill="#6aea4c" stroke="#22a022" stroke-width="0.9"/>
<polygon points="346.5,496.0 348.5,496.0 350.5,496.0 350.5,497.5 348.5,497.5 346.5,497.4" fill="#14e6ff" stroke="#0cc0e0" stroke-width="0.9"/>
<polygon points="353.5,483.5 355.5,482.7 357.5,481.7 357.5,496.0 355.5,496.0 353.5,496.0" fill="url(#pch)" stroke="#cf9a66" stroke-width="0.9"/>
<polygon points="353.5,481.6 355.5,480.5 357.5,479.6 357.5,481.7 355.5,482.7 353.5,483.5" fill="#6aea4c" stroke="#22a022" stroke-width="0.9"/>
<polygon points="353.5,496.0 355.5,496.0 357.5,496.0 357.5,497.2 355.5,497.4 353.5,497.5" fill="#14e6ff" stroke="#0cc0e0" stroke-width="0.9"/>
<polygon points="360.5,480.2 362.5,479.4 364.5,478.9 364.5,496.0 362.5,496.0 360.5,496.0" fill="url(#pch)" stroke="#cf9a66" stroke-width="0.9"/>
<polygon points="360.5,478.2 362.5,477.6 364.5,477.3 364.5,478.9 362.5,479.4 360.5,480.2" fill="#6aea4c" stroke="#22a022" stroke-width="0.9"/>
<polygon points="366.5,478.3 368.5,477.7 370.5,477.0 370.5,496.0 368.5,496.0 366.5,496.0" fill="url(#pch)" stroke="#cf9a66" stroke-width="0.9"/>
<polygon points="366.5,477.0 368.5,476.6 370.5,476.0 370.5,477.0 368.5,477.7 366.5,478.3" fill="#6aea4c" stroke="#22a022" stroke-width="0.9"/>
<polygon points="366.5,494.4 368.5,493.5 370.5,493.9 370.5,496.0 368.5,496.0 366.5,496.0" fill="#14e6ff" stroke="#0cc0e0" stroke-width="0.9"/>
<polygon points="373.5,476.0 375.5,475.6 377.5,476.2 377.5,496.0 375.5,496.0 373.5,496.0" fill="url(#pch)" stroke="#cf9a66" stroke-width="0.9"/>
<polygon points="373.5,475.0 375.5,474.6 377.5,475.5 377.5,476.2 375.5,475.6 373.5,476.0" fill="#6aea4c" stroke="#22a022" stroke-width="0.9"/>
<polygon points="373.5,494.4 375.5,494.8 377.5,495.2 377.5,496.0 375.5,496.0 373.5,496.0" fill="#14e6ff" stroke="#0cc0e0" stroke-width="0.9"/>
<polygon points="380.5,477.0 382.5,477.4 384.5,477.8 384.5,496.0 382.5,496.0 380.5,496.0" fill="url(#pch)" stroke="#cf9a66" stroke-width="0.9"/>
<polygon points="386.5,478.1 388.5,478.5 390.5,479.0 390.5,496.0 388.5,496.0 386.5,496.0" fill="url(#pch)" stroke="#cf9a66" stroke-width="0.9"/>
<polygon points="393.5,479.8 395.5,480.5 397.5,481.7 397.5,496.0 395.5,496.0 393.5,496.0" fill="url(#pch)" stroke="#cf9a66" stroke-width="0.9"/>
<polygon points="400.5,483.6 402.5,484.5 404.5,484.5 404.5,496.0 402.5,496.0 400.5,496.0" fill="url(#pch)" stroke="#cf9a66" stroke-width="0.9"/>
<polygon points="400.5,496.0 402.5,496.0 404.5,496.0 404.5,496.6 402.5,496.5 400.5,496.5" fill="#14e6ff" stroke="#0cc0e0" stroke-width="0.9"/>
<polygon points="407.5,484.5 409.5,484.5 411.5,484.5 411.5,496.0 409.5,496.0 407.5,496.0" fill="url(#pch)" stroke="#cf9a66" stroke-width="0.9"/>
<polygon points="407.5,496.0 409.5,496.0 411.5,496.0 411.5,497.3 409.5,497.0 407.5,496.7" fill="#14e6ff" stroke="#0cc0e0" stroke-width="0.9"/>
<polygon points="413.5,484.5 415.5,484.6 417.5,485.9 417.5,496.0 415.5,496.0 413.5,496.0" fill="url(#pch)" stroke="#cf9a66" stroke-width="0.9"/>
<polygon points="413.5,496.0 415.5,496.0 417.5,496.0 417.5,498.0 415.5,498.0 413.5,497.7" fill="#14e6ff" stroke="#0cc0e0" stroke-width="0.9"/>
<polygon points="420.5,487.9 422.5,489.2 424.5,490.3 424.5,496.0 422.5,496.0 420.5,496.0" fill="url(#pch)" stroke="#cf9a66" stroke-width="0.9"/>
<polygon points="420.5,496.0 422.5,496.0 424.5,496.0 424.5,499.6 422.5,498.3 420.5,498.0" fill="#14e6ff" stroke="#0cc0e0" stroke-width="0.9"/>
<polygon points="427.5,492.0 429.5,493.1 431.5,494.1 431.5,496.0 429.5,496.0 427.5,496.0" fill="url(#pch)" stroke="#cf9a66" stroke-width="0.9"/>
<polygon points="427.5,496.0 429.5,496.0 431.5,496.0 431.5,504.8 429.5,502.5 427.5,500.3" fill="#6aea4c" stroke="#22a022" stroke-width="0.9"/>
<polygon points="427.5,496.0 429.5,496.0 431.5,496.0 431.5,502.0 429.5,502.4 427.5,501.6" fill="#14e6ff" stroke="#0cc0e0" stroke-width="0.9"/>
<polygon points="434.5,496.0 436.5,496.0 438.5,496.0 438.5,511.4 436.5,510.0 434.5,508.1" fill="#6aea4c" stroke="#22a022" stroke-width="0.9"/>
<polygon points="434.5,496.0 436.5,496.0 438.5,496.0 438.5,500.8 436.5,501.1 434.5,501.5" fill="#14e6ff" stroke="#0cc0e0" stroke-width="0.9"/>
<polygon points="440.5,496.0 442.5,496.0 444.5,496.0 444.5,513.3 442.5,514.1 440.5,512.9" fill="#6aea4c" stroke="#22a022" stroke-width="0.9"/>
<polygon points="440.5,496.0 442.5,496.0 444.5,496.0 444.5,499.7 442.5,500.2 440.5,500.5" fill="#14e6ff" stroke="#0cc0e0" stroke-width="0.9"/>
<polygon points="447.5,496.0 449.5,496.0 451.5,496.0 451.5,510.7 449.5,511.3 447.5,512.1" fill="#6aea4c" stroke="#22a022" stroke-width="0.9"/>
<polygon points="447.5,496.0 449.5,496.0 451.5,496.0 451.5,499.7 449.5,499.0 447.5,499.1" fill="#14e6ff" stroke="#0cc0e0" stroke-width="0.9"/>
<polygon points="454.5,496.0 456.5,496.0 458.5,496.0 458.5,507.1 456.5,508.6 454.5,509.6" fill="#6aea4c" stroke="#22a022" stroke-width="0.9"/>
<polygon points="454.5,496.0 456.5,496.0 458.5,496.0 458.5,501.3 456.5,501.3 454.5,500.8" fill="#14e6ff" stroke="#0cc0e0" stroke-width="0.9"/>
<polygon points="460.5,496.0 462.5,496.0 464.5,496.0 464.5,504.0 462.5,504.0 460.5,505.5" fill="#6aea4c" stroke="#22a022" stroke-width="0.9"/>
<polygon points="460.5,496.0 462.5,496.0 464.5,496.0 464.5,502.2 462.5,501.3 460.5,501.3" fill="#14e6ff" stroke="#0cc0e0" stroke-width="0.9"/>
<polygon points="467.5,496.0 469.5,496.0 471.5,496.0 471.5,503.7 469.5,504.0 467.5,504.0" fill="#6aea4c" stroke="#22a022" stroke-width="0.9"/>
<polygon points="467.5,496.0 469.5,496.0 471.5,496.0 471.5,503.9 469.5,504.2 467.5,503.6" fill="#14e6ff" stroke="#0cc0e0" stroke-width="0.9"/>
<polygon points="474.5,496.0 476.5,496.0 478.5,496.0 478.5,506.4 476.5,504.0 474.5,503.4" fill="#6aea4c" stroke="#22a022" stroke-width="0.9"/>
<polygon points="474.5,496.0 476.5,496.0 478.5,496.0 478.5,503.1 476.5,503.2 474.5,503.5" fill="#14e6ff" stroke="#0cc0e0" stroke-width="0.9"/>
<polygon points="481.5,496.0 483.5,496.0 485.5,496.0 485.5,509.7 483.5,510.7 481.5,509.9" fill="#6aea4c" stroke="#22a022" stroke-width="0.9"/>
<polygon points="481.5,496.0 483.5,496.0 485.5,496.0 485.5,500.7 483.5,502.1 481.5,502.9" fill="#14e6ff" stroke="#0cc0e0" stroke-width="0.9"/>
<polygon points="487.5,496.0 489.5,496.0 491.5,496.0 491.5,504.8 489.5,507.5 487.5,508.7" fill="#6aea4c" stroke="#22a022" stroke-width="0.9"/>
<polygon points="487.5,496.0 489.5,496.0 491.5,496.0 491.5,497.4 489.5,497.9 487.5,499.3" fill="#14e6ff" stroke="#0cc0e0" stroke-width="0.9"/>
<polygon points="494.5,492.5 496.5,491.2 498.5,491.2 498.5,496.0 496.5,496.0 494.5,496.0" fill="url(#pch)" stroke="#cf9a66" stroke-width="0.9"/>
<polygon points="494.5,496.0 496.5,496.0 498.5,496.0 498.5,497.6 496.5,498.5 494.5,500.8" fill="#6aea4c" stroke="#22a022" stroke-width="0.9"/>
<polygon points="501.5,491.2 503.5,491.1 505.5,490.6 505.5,496.0 503.5,496.0 501.5,496.0" fill="url(#pch)" stroke="#cf9a66" stroke-width="0.9"/>
<polygon points="501.5,494.0 503.5,493.7 505.5,494.1 505.5,496.0 503.5,496.0 501.5,496.0" fill="#14e6ff" stroke="#0cc0e0" stroke-width="0.9"/>
<polygon points="507.5,490.2 509.5,489.7 511.5,489.4 511.5,496.0 509.5,496.0 507.5,496.0" fill="url(#pch)" stroke="#cf9a66" stroke-width="0.9"/>
<polygon points="507.5,494.6 509.5,495.0 511.5,495.9 511.5,496.0 509.5,496.0 507.5,496.0" fill="#14e6ff" stroke="#0cc0e0" stroke-width="0.9"/>
<polygon points="514.5,489.0 516.5,488.7 518.5,488.9 518.5,496.0 516.5,496.0 514.5,496.0" fill="url(#pch)" stroke="#cf9a66" stroke-width="0.9"/>
<polygon points="514.5,496.0 516.5,496.0 518.5,496.0 518.5,498.3 516.5,498.0 514.5,497.3" fill="#14e6ff" stroke="#0cc0e0" stroke-width="0.9"/>
<polygon points="521.5,489.2 523.5,489.4 525.5,489.8 525.5,496.0 523.5,496.0 521.5,496.0" fill="url(#pch)" stroke="#cf9a66" stroke-width="0.9"/>
<polygon points="521.5,496.0 523.5,496.0 525.5,496.0 525.5,497.9 523.5,498.5 521.5,498.6" fill="#14e6ff" stroke="#0cc0e0" stroke-width="0.9"/>
<polygon points="528.5,490.3 530.5,490.6 532.5,490.8 532.5,496.0 530.5,496.0 528.5,496.0" fill="url(#pch)" stroke="#cf9a66" stroke-width="0.9"/>
<polygon points="528.5,496.0 530.5,496.0 532.5,495.6 532.5,495.6 530.5,496.8 528.5,496.0" fill="#6aea4c" stroke="#22a022" stroke-width="0.9"/>
<polygon points="528.5,496.0 530.5,496.0 532.5,496.0 532.5,497.1 530.5,496.7 528.5,496.9" fill="#14e6ff" stroke="#0cc0e0" stroke-width="0.9"/>
<polygon points="534.5,491.0 536.5,491.1 538.5,489.8 538.5,496.0 536.5,496.0 534.5,496.0" fill="url(#pch)" stroke="#cf9a66" stroke-width="0.9"/>
<polygon points="534.5,496.0 536.5,496.0 538.5,496.0 538.5,497.5 536.5,498.0 534.5,497.6" fill="#14e6ff" stroke="#0cc0e0" stroke-width="0.9"/>
<polygon points="541.5,487.8 543.5,486.6 545.5,485.9 545.5,496.0 543.5,496.0 541.5,496.0" fill="url(#pch)" stroke="#cf9a66" stroke-width="0.9"/>
<polygon points="548.5,484.9 550.5,484.2 552.5,483.3 552.5,496.0 550.5,496.0 548.5,496.0" fill="url(#pch)" stroke="#cf9a66" stroke-width="0.9"/>
<polygon points="548.5,495.0 550.5,494.2 552.5,492.7 552.5,496.0 550.5,496.0 548.5,496.0" fill="#14e6ff" stroke="#0cc0e0" stroke-width="0.9"/>
<polygon points="554.5,482.4 556.5,481.5 558.5,481.1 558.5,496.0 556.5,496.0 554.5,496.0" fill="url(#pch)" stroke="#cf9a66" stroke-width="0.9"/>
<polygon points="554.5,491.2 556.5,489.8 558.5,490.6 558.5,496.0 556.5,496.0 554.5,496.0" fill="#14e6ff" stroke="#0cc0e0" stroke-width="0.9"/>
<polygon points="561.5,480.6 563.5,480.2 565.5,479.7 565.5,496.0 563.5,496.0 561.5,496.0" fill="url(#pch)" stroke="#cf9a66" stroke-width="0.9"/>
<polygon points="561.5,492.0 563.5,492.8 565.5,493.1 565.5,496.0 563.5,496.0 561.5,496.0" fill="#14e6ff" stroke="#0cc0e0" stroke-width="0.9"/>
<polygon points="568.5,478.9 570.5,478.1 572.5,476.9 572.5,496.0 570.5,496.0 568.5,496.0" fill="url(#pch)" stroke="#cf9a66" stroke-width="0.9"/>
<polygon points="568.5,478.6 570.5,477.4 572.5,474.4 572.5,476.9 570.5,478.1 568.5,478.9" fill="#6aea4c" stroke="#22a022" stroke-width="0.9"/>
<polygon points="568.5,493.6 570.5,493.8 572.5,493.7 572.5,496.0 570.5,496.0 568.5,496.0" fill="#14e6ff" stroke="#0cc0e0" stroke-width="0.9"/>
<polygon points="575.5,475.0 577.5,474.0 579.5,473.2 579.5,496.0 577.5,496.0 575.5,496.0" fill="url(#pch)" stroke="#cf9a66" stroke-width="0.9"/>
<polygon points="575.5,470.0 577.5,468.0 579.5,467.4 579.5,473.2 577.5,474.0 575.5,475.0" fill="#6aea4c" stroke="#22a022" stroke-width="0.9"/>
<polygon points="575.5,493.6 577.5,493.2 579.5,492.5 579.5,496.0 577.5,496.0 575.5,496.0" fill="#14e6ff" stroke="#0cc0e0" stroke-width="0.9"/>
<polygon points="581.5,472.5 583.5,471.7 585.5,471.6 585.5,496.0 583.5,496.0 581.5,496.0" fill="url(#pch)" stroke="#cf9a66" stroke-width="0.9"/>
<polygon points="581.5,466.8 583.5,466.2 585.5,465.8 585.5,471.6 583.5,471.7 581.5,472.5" fill="#6aea4c" stroke="#22a022" stroke-width="0.9"/>
<polygon points="581.5,491.9 583.5,491.3 585.5,491.4 585.5,496.0 583.5,496.0 581.5,496.0" fill="#14e6ff" stroke="#0cc0e0" stroke-width="0.9"/>
<polygon points="588.5,471.4 590.5,471.4 592.5,472.2 592.5,496.0 590.5,496.0 588.5,496.0" fill="url(#pch)" stroke="#cf9a66" stroke-width="0.9"/>
<polygon points="588.5,465.3 590.5,465.2 592.5,466.3 592.5,472.2 590.5,471.4 588.5,471.4" fill="#6aea4c" stroke="#22a022" stroke-width="0.9"/>
<polygon points="588.5,491.6 590.5,492.0 592.5,493.4 592.5,496.0 590.5,496.0 588.5,496.0" fill="#14e6ff" stroke="#0cc0e0" stroke-width="0.9"/>
<polygon points="595.5,473.2 597.5,473.9 599.5,474.4 599.5,496.0 597.5,496.0 595.5,496.0" fill="url(#pch)" stroke="#cf9a66" stroke-width="0.9"/>
<polygon points="595.5,468.0 597.5,469.0 599.5,469.8 599.5,474.4 597.5,473.9 595.5,473.2" fill="#6aea4c" stroke="#22a022" stroke-width="0.9"/>
<polygon points="602.5,475.2 604.5,475.6 606.5,475.8 606.5,496.0 604.5,496.0 602.5,496.0" fill="url(#pch)" stroke="#cf9a66" stroke-width="0.9"/>
<polygon points="602.5,470.9 604.5,471.5 606.5,471.8 606.5,475.8 604.5,475.6 602.5,475.2" fill="#6aea4c" stroke="#22a022" stroke-width="0.9"/>
<polygon points="602.5,494.6 604.5,494.7 606.5,495.6 606.5,496.0 604.5,496.0 602.5,496.0" fill="#14e6ff" stroke="#0cc0e0" stroke-width="0.9"/>
<polygon points="608.5,476.1 610.5,476.2 612.5,475.9 612.5,496.0 610.5,496.0 608.5,496.0" fill="url(#pch)" stroke="#cf9a66" stroke-width="0.9"/>
<polygon points="608.5,472.2 610.5,472.3 612.5,471.1 612.5,475.9 610.5,476.2 608.5,476.1" fill="#6aea4c" stroke="#22a022" stroke-width="0.9"/>
<polygon points="608.5,496.0 610.5,496.0 612.5,496.0 612.5,497.0 610.5,497.2 608.5,496.5" fill="#14e6ff" stroke="#0cc0e0" stroke-width="0.9"/>
<polygon points="615.5,475.4 617.5,475.2 619.5,475.0 619.5,496.0 617.5,496.0 615.5,496.0" fill="url(#pch)" stroke="#cf9a66" stroke-width="0.9"/>
<polygon points="615.5,469.2 617.5,468.4 619.5,468.8 619.5,475.0 617.5,475.2 615.5,475.4" fill="#6aea4c" stroke="#22a022" stroke-width="0.9"/>
<polygon points="615.5,496.0 617.5,496.0 619.5,496.0 619.5,497.1 617.5,496.6 615.5,496.7" fill="#14e6ff" stroke="#0cc0e0" stroke-width="0.9"/>
<polygon points="622.5,474.8 624.5,474.7 626.5,474.6 626.5,496.0 624.5,496.0 622.5,496.0" fill="url(#pch)" stroke="#cf9a66" stroke-width="0.9"/>
<polygon points="622.5,469.3 624.5,469.5 626.5,469.6 626.5,474.6 624.5,474.7 622.5,474.8" fill="#6aea4c" stroke="#22a022" stroke-width="0.9"/>
<polygon points="622.5,496.0 624.5,496.0 626.5,496.0 626.5,497.5 624.5,497.9 622.5,497.7" fill="#14e6ff" stroke="#0cc0e0" stroke-width="0.9"/>
<polygon points="628.5,474.4 630.5,474.3 632.5,475.0 632.5,496.0 630.5,496.0 628.5,496.0" fill="url(#pch)" stroke="#cf9a66" stroke-width="0.9"/>
<polygon points="628.5,469.6 630.5,469.8 632.5,471.7 632.5,475.0 630.5,474.3 628.5,474.4" fill="#6aea4c" stroke="#22a022" stroke-width="0.9"/>
<polygon points="628.5,496.0 630.5,496.0 632.5,496.0 632.5,496.7 630.5,496.9 628.5,497.2" fill="#14e6ff" stroke="#0cc0e0" stroke-width="0.9"/>
<polygon points="635.5,476.0 637.5,476.7 639.5,477.4 639.5,496.0 637.5,496.0 635.5,496.0" fill="url(#pch)" stroke="#cf9a66" stroke-width="0.9"/>
<polygon points="635.5,474.5 637.5,476.2 639.5,477.0 639.5,477.4 637.5,476.7 635.5,476.0" fill="#6aea4c" stroke="#22a022" stroke-width="0.9"/>
<polygon points="642.5,478.4 644.5,478.7 646.5,478.3 646.5,496.0 644.5,496.0 642.5,496.0" fill="url(#pch)" stroke="#cf9a66" stroke-width="0.9"/>
<polygon points="642.5,496.0 644.5,496.0 646.5,496.0 646.5,496.0 644.5,496.7 642.5,496.8" fill="#14e6ff" stroke="#0cc0e0" stroke-width="0.9"/>
<polygon points="649.5,477.6 651.5,477.0 653.5,476.3 653.5,496.0 651.5,496.0 649.5,496.0" fill="url(#pch)" stroke="#cf9a66" stroke-width="0.9"/>
<polygon points="649.5,495.0 651.5,494.5 653.5,494.4 653.5,496.0 651.5,496.0 649.5,496.0" fill="#14e6ff" stroke="#0cc0e0" stroke-width="0.9"/>
<polygon points="655.5,475.6 657.5,475.0 659.5,474.8 659.5,496.0 657.5,496.0 655.5,496.0" fill="url(#pch)" stroke="#cf9a66" stroke-width="0.9"/>
<polygon points="655.5,494.3 657.5,494.2 659.5,494.3 659.5,496.0 657.5,496.0 655.5,496.0" fill="#14e6ff" stroke="#0cc0e0" stroke-width="0.9"/>
<polygon points="662.5,474.5 664.5,474.4 666.5,474.4 666.5,496.0 664.5,496.0 662.5,496.0" fill="url(#pch)" stroke="#cf9a66" stroke-width="0.9"/>
<polygon points="662.5,494.5 664.5,494.5 666.5,494.2 666.5,496.0 664.5,496.0 662.5,496.0" fill="#14e6ff" stroke="#0cc0e0" stroke-width="0.9"/>
<polygon points="669.5,474.4 671.5,474.1 673.5,473.5 673.5,496.0 671.5,496.0 669.5,496.0" fill="url(#pch)" stroke="#cf9a66" stroke-width="0.9"/>
<polygon points="669.5,493.7 671.5,493.5 673.5,493.5 673.5,496.0 671.5,496.0 669.5,496.0" fill="#14e6ff" stroke="#0cc0e0" stroke-width="0.9"/>
<polygon points="675.5,472.8 677.5,472.1 679.5,472.1 679.5,496.0 677.5,496.0 675.5,496.0" fill="url(#pch)" stroke="#cf9a66" stroke-width="0.9"/>
<polygon points="675.5,470.9 677.5,469.2 679.5,469.2 679.5,472.1 677.5,472.1 675.5,472.8" fill="#6aea4c" stroke="#22a022" stroke-width="0.9"/>
<polygon points="675.5,493.5 677.5,493.5 679.5,493.5 679.5,496.0 677.5,496.0 675.5,496.0" fill="#14e6ff" stroke="#0cc0e0" stroke-width="0.9"/>
<line x1="1" y1="496.5" x2="680" y2="496.5" stroke="#000" stroke-width="1.1" stroke-dasharray="4 3"/>
<polyline points="-1.3,496.8 5.5,493.0 12.2,493.6 18.9,493.6 25.6,493.6 32.3,493.6 39.1,495.0 45.8,496.0 52.5,496.0 59.2,496.0 65.9,492.0 72.7,492.4 79.4,492.4 86.1,492.4 92.8,492.5 99.5,489.2 106.2,490.0 113.0,491.4 119.7,493.2 126.4,494.5 133.1,493.2 139.8,498.2 146.6,498.2 153.3,502.0 160.0,502.6 166.7,508.2 173.4,505.8 180.2,497.2 186.9,503.0 193.6,498.0 200.3,501.8 207.0,509.2 213.8,505.5 220.5,498.8 227.2,500.2 233.9,499.5 240.6,506.2 247.4,505.5 254.1,504.0 260.8,500.2 267.5,501.8 274.2,500.2 281.0,500.0 287.7,500.2 294.4,503.0 301.1,510.0 307.8,507.8 314.6,505.5 321.3,504.0 328.0,498.8 334.7,497.2 341.4,497.2 348.2,497.5 354.9,497.5 361.6,496.8 368.3,493.5 375.0,494.7 381.8,496.2 388.5,496.5 395.2,496.5 401.9,496.5 408.6,496.8 415.4,498.0 422.1,498.0 428.8,502.5 435.5,501.3 442.2,500.2 449.0,498.8 455.7,501.3 462.4,501.3 469.1,504.3 475.8,503.2 482.6,502.8 489.3,498.0 496.0,496.2 502.7,493.5 509.4,495.0 516.2,498.0 522.9,498.8 529.6,496.5 536.3,498.0 543.1,496.5 549.8,494.7 556.5,489.8 563.2,492.8 569.9,493.8 576.6,493.5 583.4,491.2 590.1,491.7 596.8,496.5 603.5,494.2 610.2,497.2 617.0,496.5 623.7,498.0 630.4,496.9 637.1,496.2 643.9,496.9 650.6,494.6 657.3,494.2 664.0,494.6 670.7,493.5 677.5,493.5" fill="none" stroke="#10107a" stroke-width="1.1" stroke-linejoin="round"/>
<polyline points="-1.3,486.6 5.5,479.5 12.2,476.8 18.9,475.4 25.6,474.5 32.3,473.2 39.1,475.0 45.8,477.6 52.5,480.0 59.2,482.0 65.9,478.9 72.7,478.0 79.4,475.8 86.1,477.0 92.8,478.2 99.5,477.6 106.2,478.2 113.0,481.4 119.7,485.0 126.4,488.2 133.1,486.4 139.8,489.5 146.6,490.5 153.3,492.0 160.0,488.2 166.7,488.9 173.4,495.8 180.2,493.0 186.9,491.5 193.6,498.8 200.3,499.5 207.0,503.2 213.8,501.0 220.5,494.2 227.2,498.0 233.9,496.2 240.6,495.0 247.4,492.0 254.1,488.7 260.8,486.0 267.5,484.2 274.2,484.2 281.0,486.3 287.7,487.8 294.4,488.1 301.1,488.9 307.8,487.5 314.6,486.0 321.3,484.5 328.0,484.5 334.7,483.0 341.4,485.2 348.2,485.2 354.9,483.0 361.6,479.7 368.3,477.8 375.0,475.5 381.8,477.3 388.5,478.5 395.2,480.3 401.9,484.5 408.6,484.5 415.4,484.5 422.1,489.0 428.8,492.8 435.5,496.2 442.2,496.8 449.0,496.8 455.7,496.8 462.4,496.8 469.1,496.8 475.8,496.8 482.6,496.8 489.3,496.8 496.0,491.2 502.7,491.2 509.4,489.8 516.2,488.7 522.9,489.3 529.6,490.5 536.3,491.2 543.1,486.8 549.8,484.5 556.5,481.5 563.2,480.3 569.9,478.5 576.6,474.3 583.4,471.8 590.1,471.3 596.8,473.7 603.5,475.5 610.2,476.2 617.0,475.2 623.7,474.8 630.4,474.3 637.1,476.6 643.9,478.9 650.6,477.3 657.3,475.0 664.0,474.4 670.7,474.4 677.5,472.1" fill="none" stroke="#4a1c1c" stroke-width="1.1" stroke-linejoin="round"/>
<polyline points="-1.3,486.2 5.5,478.5 12.2,475.8 18.9,474.5 25.6,473.5 32.3,470.8 39.1,473.3 45.8,477.0 52.5,479.8 59.2,482.3 65.9,479.0 72.7,478.3 79.4,476.0 86.1,477.6 92.8,480.0 99.5,478.9 106.2,479.5 113.0,483.9 119.7,487.6 126.4,490.8 133.1,488.9 139.8,491.4 146.6,491.6 153.3,492.0 160.0,486.4 166.7,486.4 173.4,495.8 180.2,493.5 186.9,492.0 193.6,502.5 200.3,504.8 207.0,503.2 213.8,501.0 220.5,498.0 227.2,502.5 233.9,499.5 240.6,495.8 247.4,489.8 254.1,486.0 260.8,483.8 267.5,483.8 274.2,480.0 281.0,485.2 287.7,487.5 294.4,488.1 301.1,488.9 307.8,477.8 314.6,475.8 321.3,483.8 328.0,483.8 334.7,481.5 341.4,484.8 348.2,484.8 354.9,480.8 361.6,477.8 368.3,476.7 375.0,474.4 381.8,477.3 388.5,479.2 395.2,480.8 401.9,490.2 408.6,486.8 415.4,484.5 422.1,494.2 428.8,501.8 435.5,509.2 442.2,514.2 449.0,511.5 455.7,509.2 462.4,504.0 469.1,504.0 475.8,503.2 482.6,511.2 489.3,507.8 496.0,498.8 502.7,495.8 509.4,489.8 516.2,489.7 522.9,489.8 529.6,497.2 536.3,493.5 543.1,487.5 549.8,484.8 556.5,481.5 563.2,480.3 569.9,478.2 576.6,468.3 583.4,466.2 590.1,465.0 596.8,468.8 603.5,471.3 610.2,472.5 617.0,468.3 623.7,469.5 630.4,469.7 637.1,476.0 643.9,478.9 650.6,477.3 657.3,475.0 664.0,474.4 670.7,475.0 677.5,469.2" fill="none" stroke="#1c7c1c" stroke-width="1.05" stroke-linejoin="round"/>
<polyline points="0.0,484.5 25.0,481.4 50.0,478.9 75.0,478.2 95.0,477.3 109.0,478.2 150.0,483.7 190.0,489.0 225.0,493.2 245.0,493.5 264.0,491.2 290.0,489.6 335.0,487.5 380.0,482.7 410.0,482.2 415.0,482.2 437.0,486.8 484.0,493.5 497.0,493.5 520.0,492.0 540.0,491.2 570.0,486.8 600.0,480.8 630.0,477.8 642.0,478.9 650.0,478.6 677.4,476.6" fill="none" stroke="#ff1010" stroke-width="1.2" stroke-linejoin="round"/>
</g>
<text x="3.6" y="474.3" fill="#98ff70" font-size="11px" textLength="27.4" lengthAdjust="spacingAndGlyphs">verde</text>
<text x="34.4" y="474.3" fill="#ffd2a4" font-size="11px" textLength="33.2" lengthAdjust="spacingAndGlyphs">marron</text>
<text x="71.6" y="474.3" fill="#1a0a1a" font-size="11px" textLength="34.8" lengthAdjust="spacingAndGlyphs">lmarron</text>
<text x="111" y="474.3" fill="#12e6ff" font-size="11px" textLength="19.3" lengthAdjust="spacingAndGlyphs">azul</text>
<text x="133.75" y="474.3" fill="#226c22" font-size="11px" textLength="26.85" lengthAdjust="spacingAndGlyphs">lineav</text>
<text x="165" y="474.3" fill="#14147c" font-size="11px" textLength="21.25" lengthAdjust="spacingAndGlyphs">lazul</text>
<text x="189.75" y="474.3" fill="#ff1616" font-size="11px" textLength="26.25" lengthAdjust="spacingAndGlyphs">media</text>
<text x="220.5" y="474.3" fill="#000010" font-size="11px" textLength="44.25" lengthAdjust="spacingAndGlyphs">cero (15)</text>
<line x1="748" y1="472" x2="752" y2="472" stroke="#ababab"/>
<text x="754.5" y="476" fill="#000" font-size="11px">100</text>
<line x1="748" y1="496.2" x2="752" y2="496.2" stroke="#ababab"/>
<rect x="752.5" y="499.5" width="8" height="3.5" fill="#fff" stroke="#a8a8a8"/>
<rect x="752.5" y="485.5" width="35" height="14" fill="#fff" stroke="#a8a8a8"/>
<text x="754.7" y="496.7" fill="#10107c" font-size="11px" textLength="31.3" lengthAdjust="spacingAndGlyphs">10,291</text>
<rect x="3.5" y="529.5" width="4" height="22" fill="url(#vg)" stroke="#1c8c1c" stroke-width="1"/>
<rect x="10.5" y="533.5" width="4" height="18" fill="url(#vr)" stroke="#a82828" stroke-width="1"/>
<rect x="17.5" y="533.5" width="4" height="18" fill="url(#vg)" stroke="#1c8c1c" stroke-width="1"/>
<rect x="24.5" y="536.5" width="4" height="15" fill="url(#vr)" stroke="#a82828" stroke-width="1"/>
<rect x="30.5" y="534.5" width="4" height="17" fill="url(#vg)" stroke="#1c8c1c" stroke-width="1"/>
<rect x="37.5" y="535.5" width="4" height="16" fill="url(#vr)" stroke="#a82828" stroke-width="1"/>
<rect x="44.5" y="535.5" width="4" height="16" fill="url(#vr)" stroke="#a82828" stroke-width="1"/>
<rect x="50.5" y="533.5" width="4" height="18" fill="url(#vr)" stroke="#a82828" stroke-width="1"/>
<rect x="57.5" y="524.5" width="4" height="27" fill="url(#vr)" stroke="#a82828" stroke-width="1"/>
<rect x="64.5" y="535.5" width="4" height="16" fill="url(#vg)" stroke="#1c8c1c" stroke-width="1"/>
<rect x="71.5" y="537.5" width="4" height="14" fill="url(#vg)" stroke="#1c8c1c" stroke-width="1"/>
<rect x="77.5" y="536.5" width="4" height="15" fill="url(#vg)" stroke="#1c8c1c" stroke-width="1"/>
<rect x="84.5" y="535.5" width="4" height="16" fill="url(#vr)" stroke="#a82828" stroke-width="1"/>
<rect x="91.5" y="539.5" width="4" height="12" fill="url(#vg)" stroke="#1c8c1c" stroke-width="1"/>
<rect x="98.5" y="542.5" width="4" height="9" fill="url(#vg)" stroke="#1c8c1c" stroke-width="1"/>
<rect x="104.5" y="537.5" width="4" height="14" fill="url(#vr)" stroke="#a82828" stroke-width="1"/>
<rect x="111.5" y="537.5" width="4" height="14" fill="url(#vr)" stroke="#a82828" stroke-width="1"/>
<rect x="118.5" y="537.5" width="4" height="14" fill="url(#vr)" stroke="#a82828" stroke-width="1"/>
<rect x="124.5" y="537.5" width="4" height="14" fill="url(#vg)" stroke="#1c8c1c" stroke-width="1"/>
<rect x="131.5" y="539.5" width="4" height="12" fill="url(#vg)" stroke="#1c8c1c" stroke-width="1"/>
<rect x="138.5" y="540.5" width="4" height="11" fill="url(#vr)" stroke="#a82828" stroke-width="1"/>
<rect x="145.5" y="534.5" width="4" height="17" fill="url(#vg)" stroke="#1c8c1c" stroke-width="1"/>
<rect x="151.5" y="536.5" width="4" height="15" fill="url(#vr)" stroke="#a82828" stroke-width="1"/>
<rect x="158.5" y="536.5" width="4" height="15" fill="url(#vg)" stroke="#1c8c1c" stroke-width="1"/>
<rect x="165.5" y="536.5" width="4" height="15" fill="url(#vr)" stroke="#a82828" stroke-width="1"/>
<rect x="171.5" y="530.5" width="4" height="21" fill="url(#vr)" stroke="#a82828" stroke-width="1"/>
<rect x="178.5" y="532.5" width="4" height="19" fill="url(#vg)" stroke="#1c8c1c" stroke-width="1"/>
<rect x="185.5" y="536.5" width="4" height="15" fill="url(#vr)" stroke="#a82828" stroke-width="1"/>
<rect x="192.5" y="526.5" width="4" height="25" fill="url(#vr)" stroke="#a82828" stroke-width="1"/>
<rect x="198.5" y="522.5" width="4" height="29" fill="url(#vr)" stroke="#a82828" stroke-width="1"/>
<rect x="205.5" y="538.5" width="4" height="13" fill="url(#vr)" stroke="#a82828" stroke-width="1"/>
<rect x="212.5" y="540.5" width="4" height="11" fill="url(#vg)" stroke="#1c8c1c" stroke-width="1"/>
<rect x="218.5" y="540.5" width="4" height="11" fill="url(#vg)" stroke="#1c8c1c" stroke-width="1"/>
<rect x="225.5" y="538.5" width="4" height="13" fill="url(#vr)" stroke="#a82828" stroke-width="1"/>
<rect x="232.5" y="530.5" width="4" height="21" fill="url(#vg)" stroke="#1c8c1c" stroke-width="1"/>
<rect x="239.5" y="536.5" width="4" height="15" fill="url(#vr)" stroke="#a82828" stroke-width="1"/>
<rect x="245.5" y="536.5" width="4" height="15" fill="url(#vg)" stroke="#1c8c1c" stroke-width="1"/>
<rect x="252.5" y="536.5" width="4" height="15" fill="url(#vg)" stroke="#1c8c1c" stroke-width="1"/>
<rect x="259.5" y="538.5" width="4" height="13" fill="url(#vg)" stroke="#1c8c1c" stroke-width="1"/>
<rect x="266.5" y="538.5" width="4" height="13" fill="url(#vr)" stroke="#a82828" stroke-width="1"/>
<rect x="272.5" y="536.5" width="4" height="15" fill="url(#vg)" stroke="#1c8c1c" stroke-width="1"/>
<rect x="279.5" y="536.5" width="4" height="15" fill="url(#vr)" stroke="#a82828" stroke-width="1"/>
<rect x="286.5" y="538.5" width="4" height="13" fill="url(#vr)" stroke="#a82828" stroke-width="1"/>
<rect x="292.5" y="538.5" width="4" height="13" fill="url(#vr)" stroke="#a82828" stroke-width="1"/>
<rect x="299.5" y="540.5" width="4" height="11" fill="url(#vr)" stroke="#a82828" stroke-width="1"/>
<rect x="306.5" y="536.5" width="4" height="15" fill="url(#vg)" stroke="#1c8c1c" stroke-width="1"/>
<rect x="313.5" y="538.5" width="4" height="13" fill="url(#vg)" stroke="#1c8c1c" stroke-width="1"/>
<rect x="319.5" y="536.5" width="4" height="15" fill="url(#vr)" stroke="#a82828" stroke-width="1"/>
<rect x="326.5" y="542.5" width="4" height="9" fill="url(#vg)" stroke="#1c8c1c" stroke-width="1"/>
<rect x="333.5" y="546.5" width="4" height="5" fill="url(#vg)" stroke="#1c8c1c" stroke-width="1"/>
<rect x="339.5" y="540.5" width="4" height="11" fill="url(#vr)" stroke="#a82828" stroke-width="1"/>
<rect x="346.5" y="536.5" width="4" height="15" fill="url(#vg)" stroke="#1c8c1c" stroke-width="1"/>
<rect x="353.5" y="536.5" width="4" height="15" fill="url(#vg)" stroke="#1c8c1c" stroke-width="1"/>
<rect x="360.5" y="536.5" width="4" height="15" fill="url(#vg)" stroke="#1c8c1c" stroke-width="1"/>
<rect x="366.5" y="536.5" width="4" height="15" fill="url(#vg)" stroke="#1c8c1c" stroke-width="1"/>
<rect x="373.5" y="538.5" width="4" height="13" fill="url(#vr)" stroke="#a82828" stroke-width="1"/>
<rect x="380.5" y="538.5" width="4" height="13" fill="url(#vr)" stroke="#a82828" stroke-width="1"/>
<rect x="386.5" y="538.5" width="4" height="13" fill="url(#vr)" stroke="#a82828" stroke-width="1"/>
<rect x="393.5" y="538.5" width="4" height="13" fill="url(#vg)" stroke="#1c8c1c" stroke-width="1"/>
<rect x="400.5" y="534.5" width="4" height="17" fill="url(#vr)" stroke="#a82828" stroke-width="1"/>
<rect x="407.5" y="532.5" width="4" height="19" fill="url(#vg)" stroke="#1c8c1c" stroke-width="1"/>
<rect x="413.5" y="536.5" width="4" height="15" fill="url(#vr)" stroke="#a82828" stroke-width="1"/>
<rect x="420.5" y="534.5" width="4" height="17" fill="url(#vr)" stroke="#a82828" stroke-width="1"/>
<rect x="427.5" y="538.5" width="4" height="13" fill="url(#vr)" stroke="#a82828" stroke-width="1"/>
<rect x="434.5" y="534.5" width="4" height="17" fill="url(#vr)" stroke="#a82828" stroke-width="1"/>
<rect x="440.5" y="528.5" width="4" height="23" fill="url(#vr)" stroke="#a82828" stroke-width="1"/>
<rect x="447.5" y="532.5" width="4" height="19" fill="url(#vg)" stroke="#1c8c1c" stroke-width="1"/>
<rect x="454.5" y="538.5" width="4" height="13" fill="url(#vr)" stroke="#a82828" stroke-width="1"/>
<rect x="460.5" y="532.5" width="4" height="19" fill="url(#vg)" stroke="#1c8c1c" stroke-width="1"/>
<rect x="467.5" y="532.5" width="4" height="19" fill="url(#vr)" stroke="#a82828" stroke-width="1"/>
<rect x="474.5" y="536.5" width="4" height="15" fill="url(#vr)" stroke="#a82828" stroke-width="1"/>
<rect x="481.5" y="530.5" width="4" height="21" fill="url(#vr)" stroke="#a82828" stroke-width="1"/>
<rect x="487.5" y="536.5" width="4" height="15" fill="url(#vg)" stroke="#1c8c1c" stroke-width="1"/>
<rect x="494.5" y="530.5" width="4" height="21" fill="url(#vg)" stroke="#1c8c1c" stroke-width="1"/>
<rect x="501.5" y="534.5" width="4" height="17" fill="url(#vg)" stroke="#1c8c1c" stroke-width="1"/>
<rect x="507.5" y="534.5" width="4" height="17" fill="url(#vg)" stroke="#1c8c1c" stroke-width="1"/>
<rect x="514.5" y="534.5" width="4" height="17" fill="url(#vr)" stroke="#a82828" stroke-width="1"/>
<rect x="521.5" y="536.5" width="4" height="15" fill="url(#vr)" stroke="#a82828" stroke-width="1"/>
<rect x="528.5" y="534.5" width="4" height="17" fill="url(#vr)" stroke="#a82828" stroke-width="1"/>
<rect x="534.5" y="532.5" width="4" height="19" fill="url(#vg)" stroke="#1c8c1c" stroke-width="1"/>
<rect x="541.5" y="534.5" width="4" height="17" fill="url(#vg)" stroke="#1c8c1c" stroke-width="1"/>
<rect x="548.5" y="538.5" width="4" height="13" fill="url(#vg)" stroke="#1c8c1c" stroke-width="1"/>
<rect x="554.5" y="540.5" width="4" height="11" fill="url(#vg)" stroke="#1c8c1c" stroke-width="1"/>
<rect x="561.5" y="542.5" width="4" height="9" fill="url(#vr)" stroke="#a82828" stroke-width="1"/>
<rect x="568.5" y="540.5" width="4" height="11" fill="url(#vg)" stroke="#1c8c1c" stroke-width="1"/>
<rect x="575.5" y="538.5" width="4" height="13" fill="url(#vg)" stroke="#1c8c1c" stroke-width="1"/>
<rect x="581.5" y="538.5" width="4" height="13" fill="url(#vg)" stroke="#1c8c1c" stroke-width="1"/>
<rect x="588.5" y="538.5" width="4" height="13" fill="url(#vg)" stroke="#1c8c1c" stroke-width="1"/>
<rect x="595.5" y="540.5" width="4" height="11" fill="url(#vr)" stroke="#a82828" stroke-width="1"/>
<rect x="602.5" y="542.5" width="4" height="9" fill="url(#vg)" stroke="#1c8c1c" stroke-width="1"/>
<rect x="608.5" y="542.5" width="4" height="9" fill="url(#vr)" stroke="#a82828" stroke-width="1"/>
<rect x="615.5" y="538.5" width="4" height="13" fill="url(#vg)" stroke="#1c8c1c" stroke-width="1"/>
<rect x="622.5" y="542.5" width="4" height="9" fill="url(#vr)" stroke="#a82828" stroke-width="1"/>
<rect x="628.5" y="544.5" width="4" height="7" fill="url(#vg)" stroke="#1c8c1c" stroke-width="1"/>
<rect x="635.5" y="542.5" width="4" height="9" fill="url(#vr)" stroke="#a82828" stroke-width="1"/>
<rect x="642.5" y="540.5" width="4" height="11" fill="url(#vr)" stroke="#a82828" stroke-width="1"/>
<rect x="649.5" y="542.5" width="4" height="9" fill="url(#vg)" stroke="#1c8c1c" stroke-width="1"/>
<rect x="655.5" y="536.5" width="4" height="15" fill="url(#vg)" stroke="#1c8c1c" stroke-width="1"/>
<rect x="662.5" y="536.5" width="4" height="15" fill="url(#vr)" stroke="#a82828" stroke-width="1"/>
<rect x="669.5" y="536.5" width="4" height="15" fill="url(#vg)" stroke="#1c8c1c" stroke-width="1"/>
<rect x="675.5" y="524.5" width="4" height="27" fill="url(#vg)" stroke="#1c8c1c" stroke-width="1"/>
<text x="3.6" y="530.6" fill="#aeea8c" font-size="11px" textLength="40.4" lengthAdjust="spacingAndGlyphs">Volumen</text>
<line x1="748" y1="524.4" x2="752" y2="524.4" stroke="#ababab"/>
<line x1="748" y1="537.4" x2="750" y2="537.4" stroke="#ababab"/>
<text x="754.5" y="529.6" fill="#000" font-size="11px" textLength="33.5" lengthAdjust="spacingAndGlyphs">2.000K</text>
<rect x="3.5" y="556.5" width="4" height="19" fill="#08f808" stroke="#30e830" stroke-width="1"/>
<rect x="10.5" y="556.5" width="4" height="19" fill="#08f808" stroke="#30e830" stroke-width="1"/>
<rect x="17.5" y="556.5" width="4" height="19" fill="#08f808" stroke="#30e830" stroke-width="1"/>
<rect x="24.5" y="556.5" width="4" height="19" fill="#08f808" stroke="#30e830" stroke-width="1"/>
<rect x="30.5" y="556.5" width="4" height="19" fill="#08f808" stroke="#30e830" stroke-width="1"/>
<rect x="37.5" y="556.5" width="4" height="19" fill="#1010f0" stroke="#2828d8" stroke-width="1"/>
<rect x="44.5" y="556.5" width="4" height="19" fill="#1010f0" stroke="#2828d8" stroke-width="1"/>
<rect x="50.5" y="556.5" width="4" height="19" fill="#f81010" stroke="#e03030" stroke-width="1"/>
<rect x="57.5" y="556.5" width="4" height="19" fill="#f81010" stroke="#e03030" stroke-width="1"/>
<rect x="64.5" y="556.5" width="4" height="19" fill="#08f808" stroke="#30e830" stroke-width="1"/>
<rect x="71.5" y="556.5" width="4" height="19" fill="#08f808" stroke="#30e830" stroke-width="1"/>
<rect x="77.5" y="556.5" width="4" height="19" fill="#08f808" stroke="#30e830" stroke-width="1"/>
<rect x="84.5" y="556.5" width="4" height="19" fill="#1010f0" stroke="#2828d8" stroke-width="1"/>
<rect x="91.5" y="556.5" width="4" height="19" fill="#1010f0" stroke="#2828d8" stroke-width="1"/>
<rect x="98.5" y="556.5" width="4" height="19" fill="#08f808" stroke="#30e830" stroke-width="1"/>
<rect x="104.5" y="556.5" width="4" height="19" fill="#1010f0" stroke="#2828d8" stroke-width="1"/>
<rect x="111.5" y="556.5" width="4" height="19" fill="#f81010" stroke="#e03030" stroke-width="1"/>
<rect x="118.5" y="556.5" width="4" height="19" fill="#f81010" stroke="#e03030" stroke-width="1"/>
<rect x="124.5" y="556.5" width="4" height="19" fill="#f81010" stroke="#e03030" stroke-width="1"/>
<rect x="131.5" y="556.5" width="4" height="19" fill="#f81010" stroke="#e03030" stroke-width="1"/>
<rect x="138.5" y="556.5" width="4" height="19" fill="#f81010" stroke="#e03030" stroke-width="1"/>
<rect x="145.5" y="556.5" width="4" height="19" fill="#1010f0" stroke="#2828d8" stroke-width="1"/>
<rect x="151.5" y="556.5" width="4" height="19" fill="#f81010" stroke="#e03030" stroke-width="1"/>
<rect x="158.5" y="556.5" width="4" height="19" fill="#08f808" stroke="#30e830" stroke-width="1"/>
<rect x="165.5" y="556.5" width="4" height="19" fill="#f81010" stroke="#e03030" stroke-width="1"/>
<rect x="171.5" y="556.5" width="4" height="19" fill="#f81010" stroke="#e03030" stroke-width="1"/>
<rect x="178.5" y="556.5" width="4" height="19" fill="#1010f0" stroke="#2828d8" stroke-width="1"/>
<rect x="185.5" y="556.5" width="4" height="19" fill="#f81010" stroke="#e03030" stroke-width="1"/>
<rect x="192.5" y="556.5" width="4" height="19" fill="#f81010" stroke="#e03030" stroke-width="1"/>
<rect x="198.5" y="556.5" width="4" height="19" fill="#f81010" stroke="#e03030" stroke-width="1"/>
<rect x="205.5" y="556.5" width="4" height="19" fill="#f81010" stroke="#e03030" stroke-width="1"/>
<rect x="212.5" y="556.5" width="4" height="19" fill="#f81010" stroke="#e03030" stroke-width="1"/>
<rect x="218.5" y="556.5" width="4" height="19" fill="#1010f0" stroke="#2828d8" stroke-width="1"/>
<rect x="225.5" y="556.5" width="4" height="19" fill="#f81010" stroke="#e03030" stroke-width="1"/>
<rect x="232.5" y="556.5" width="4" height="19" fill="#1010f0" stroke="#2828d8" stroke-width="1"/>
<rect x="239.5" y="556.5" width="4" height="19" fill="#1010f0" stroke="#2828d8" stroke-width="1"/>
<rect x="245.5" y="556.5" width="4" height="19" fill="#1010f0" stroke="#2828d8" stroke-width="1"/>
<rect x="252.5" y="556.5" width="4" height="19" fill="#1010f0" stroke="#2828d8" stroke-width="1"/>
<rect x="259.5" y="556.5" width="4" height="19" fill="#1010f0" stroke="#2828d8" stroke-width="1"/>
<rect x="266.5" y="556.5" width="4" height="19" fill="#1010f0" stroke="#2828d8" stroke-width="1"/>
<rect x="272.5" y="556.5" width="4" height="19" fill="#08f808" stroke="#30e830" stroke-width="1"/>
<rect x="279.5" y="556.5" width="4" height="19" fill="#f81010" stroke="#e03030" stroke-width="1"/>
<rect x="286.5" y="556.5" width="4" height="19" fill="#f81010" stroke="#e03030" stroke-width="1"/>
<rect x="292.5" y="556.5" width="4" height="19" fill="#f81010" stroke="#e03030" stroke-width="1"/>
<rect x="299.5" y="556.5" width="4" height="19" fill="#f81010" stroke="#e03030" stroke-width="1"/>
<rect x="306.5" y="556.5" width="4" height="19" fill="#1010f0" stroke="#2828d8" stroke-width="1"/>
<rect x="313.5" y="556.5" width="4" height="19" fill="#1010f0" stroke="#2828d8" stroke-width="1"/>
<rect x="319.5" y="556.5" width="4" height="19" fill="#f81010" stroke="#e03030" stroke-width="1"/>
<rect x="326.5" y="556.5" width="4" height="19" fill="#1010f0" stroke="#2828d8" stroke-width="1"/>
<rect x="333.5" y="556.5" width="4" height="19" fill="#1010f0" stroke="#2828d8" stroke-width="1"/>
<rect x="339.5" y="556.5" width="4" height="19" fill="#f81010" stroke="#e03030" stroke-width="1"/>
<rect x="346.5" y="556.5" width="4" height="19" fill="#1010f0" stroke="#2828d8" stroke-width="1"/>
<rect x="353.5" y="556.5" width="4" height="19" fill="#1010f0" stroke="#2828d8" stroke-width="1"/>
<rect x="360.5" y="556.5" width="4" height="19" fill="#08f808" stroke="#30e830" stroke-width="1"/>
<rect x="366.5" y="556.5" width="4" height="19" fill="#08f808" stroke="#30e830" stroke-width="1"/>
<rect x="373.5" y="556.5" width="4" height="19" fill="#08f808" stroke="#30e830" stroke-width="1"/>
<rect x="380.5" y="556.5" width="4" height="19" fill="#f81010" stroke="#e03030" stroke-width="1"/>
<rect x="386.5" y="556.5" width="4" height="19" fill="#f81010" stroke="#e03030" stroke-width="1"/>
<rect x="393.5" y="556.5" width="4" height="19" fill="#f81010" stroke="#e03030" stroke-width="1"/>
<rect x="400.5" y="556.5" width="4" height="19" fill="#f81010" stroke="#e03030" stroke-width="1"/>
<rect x="407.5" y="556.5" width="4" height="19" fill="#f81010" stroke="#e03030" stroke-width="1"/>
<rect x="413.5" y="556.5" width="4" height="19" fill="#f81010" stroke="#e03030" stroke-width="1"/>
<rect x="420.5" y="556.5" width="4" height="19" fill="#f81010" stroke="#e03030" stroke-width="1"/>
<rect x="427.5" y="556.5" width="4" height="19" fill="#f81010" stroke="#e03030" stroke-width="1"/>
<rect x="434.5" y="556.5" width="4" height="19" fill="#f81010" stroke="#e03030" stroke-width="1"/>
<rect x="440.5" y="556.5" width="4" height="19" fill="#f81010" stroke="#e03030" stroke-width="1"/>
<rect x="447.5" y="556.5" width="4" height="19" fill="#f81010" stroke="#e03030" stroke-width="1"/>
<rect x="454.5" y="556.5" width="4" height="19" fill="#f81010" stroke="#e03030" stroke-width="1"/>
<rect x="460.5" y="556.5" width="4" height="19" fill="#1010f0" stroke="#2828d8" stroke-width="1"/>
<rect x="467.5" y="556.5" width="4" height="19" fill="#f81010" stroke="#e03030" stroke-width="1"/>
<rect x="474.5" y="556.5" width="4" height="19" fill="#1010f0" stroke="#2828d8" stroke-width="1"/>
<rect x="481.5" y="556.5" width="4" height="19" fill="#f81010" stroke="#e03030" stroke-width="1"/>
<rect x="487.5" y="556.5" width="4" height="19" fill="#1010f0" stroke="#2828d8" stroke-width="1"/>
<rect x="494.5" y="556.5" width="4" height="19" fill="#1010f0" stroke="#2828d8" stroke-width="1"/>
<rect x="501.5" y="556.5" width="4" height="19" fill="#1010f0" stroke="#2828d8" stroke-width="1"/>
<rect x="507.5" y="556.5" width="4" height="19" fill="#1010f0" stroke="#2828d8" stroke-width="1"/>
<rect x="514.5" y="556.5" width="4" height="19" fill="#1010f0" stroke="#2828d8" stroke-width="1"/>
<rect x="521.5" y="556.5" width="4" height="19" fill="#1010f0" stroke="#2828d8" stroke-width="1"/>
<rect x="528.5" y="556.5" width="4" height="19" fill="#f81010" stroke="#e03030" stroke-width="1"/>
<rect x="534.5" y="556.5" width="4" height="19" fill="#1010f0" stroke="#2828d8" stroke-width="1"/>
<rect x="541.5" y="556.5" width="4" height="19" fill="#1010f0" stroke="#2828d8" stroke-width="1"/>
<rect x="548.5" y="556.5" width="4" height="19" fill="#08f808" stroke="#30e830" stroke-width="1"/>
<rect x="554.5" y="556.5" width="4" height="19" fill="#08f808" stroke="#30e830" stroke-width="1"/>
<rect x="561.5" y="556.5" width="4" height="19" fill="#08f808" stroke="#30e830" stroke-width="1"/>
<rect x="568.5" y="556.5" width="4" height="19" fill="#08f808" stroke="#30e830" stroke-width="1"/>
<rect x="575.5" y="556.5" width="4" height="19" fill="#08f808" stroke="#30e830" stroke-width="1"/>
<rect x="581.5" y="556.5" width="4" height="19" fill="#08f808" stroke="#30e830" stroke-width="1"/>
<rect x="588.5" y="556.5" width="4" height="19" fill="#08f808" stroke="#30e830" stroke-width="1"/>
<rect x="595.5" y="556.5" width="4" height="19" fill="#1010f0" stroke="#2828d8" stroke-width="1"/>
<rect x="602.5" y="556.5" width="4" height="19" fill="#1010f0" stroke="#2828d8" stroke-width="1"/>
<rect x="608.5" y="556.5" width="4" height="19" fill="#1010f0" stroke="#2828d8" stroke-width="1"/>
<rect x="615.5" y="556.5" width="4" height="19" fill="#1010f0" stroke="#2828d8" stroke-width="1"/>
<rect x="622.5" y="556.5" width="4" height="19" fill="#1010f0" stroke="#2828d8" stroke-width="1"/>
<rect x="628.5" y="556.5" width="4" height="19" fill="#1010f0" stroke="#2828d8" stroke-width="1"/>
<rect x="635.5" y="556.5" width="4" height="19" fill="#1010f0" stroke="#2828d8" stroke-width="1"/>
<rect x="642.5" y="556.5" width="4" height="19" fill="#1010f0" stroke="#2828d8" stroke-width="1"/>
<rect x="649.5" y="556.5" width="4" height="19" fill="#08f808" stroke="#30e830" stroke-width="1"/>
<rect x="655.5" y="556.5" width="4" height="19" fill="#08f808" stroke="#30e830" stroke-width="1"/>
<rect x="662.5" y="556.5" width="4" height="19" fill="#1010f0" stroke="#2828d8" stroke-width="1"/>
<rect x="669.5" y="556.5" width="4" height="19" fill="#08f808" stroke="#30e830" stroke-width="1"/>
<rect x="675.5" y="556.5" width="4" height="19" fill="#08f808" stroke="#30e830" stroke-width="1"/>
<text x="4.3" y="566" fill="#10f010" font-size="11px" textLength="57.5" lengthAdjust="spacingAndGlyphs">OK to LONG</text>
<text x="64.7" y="566" fill="#f81818" font-size="11px" textLength="67.6" lengthAdjust="spacingAndGlyphs">OK to SHORT</text>
<text x="135" y="566" fill="#1818f0" font-size="11px" textLength="82" lengthAdjust="spacingAndGlyphs">BLUE (11 26 9 21)</text>
<line x1="748" y1="557" x2="752" y2="557" stroke="#ababab"/>
<line x1="748" y1="576" x2="752" y2="576" stroke="#ababab"/>
<rect x="752.5" y="555.5" width="8" height="15.5" fill="#fff" stroke="#a8a8a8"/>
<rect x="752.5" y="571" width="8" height="3.5" fill="#fff" stroke="#a8a8a8"/>
<text x="753.6" y="567.5" fill="#40e840" font-size="11px">1</text>
<line x1="26.5" y1="578" x2="26.5" y2="582" stroke="#ababab"/>
<text x="26.2" y="592.5" fill="#000" font-size="11px" text-anchor="middle">feb</text>
<line x1="52.5" y1="578" x2="52.5" y2="582" stroke="#ababab"/>
<text x="52.2" y="592.5" fill="#000" font-size="11px" text-anchor="middle">mar</text>
<line x1="79.5" y1="578" x2="79.5" y2="582" stroke="#ababab"/>
<text x="79.2" y="592.5" fill="#000" font-size="11px" text-anchor="middle">abr</text>
<line x1="106.5" y1="578" x2="106.5" y2="582" stroke="#ababab"/>
<text x="106.2" y="592.5" fill="#000" font-size="11px" text-anchor="middle">may</text>
<line x1="140.5" y1="578" x2="140.5" y2="582" stroke="#ababab"/>
<text x="140.2" y="592.5" fill="#000" font-size="11px" text-anchor="middle">jun</text>
<line x1="167.5" y1="578" x2="167.5" y2="582" stroke="#ababab"/>
<text x="167.2" y="592.5" fill="#000" font-size="11px" text-anchor="middle">jul</text>
<line x1="194.5" y1="578" x2="194.5" y2="582" stroke="#ababab"/>
<text x="194.2" y="592.5" fill="#000" font-size="11px" text-anchor="middle">ago</text>
<line x1="227.5" y1="578" x2="227.5" y2="582" stroke="#ababab"/>
<text x="227.2" y="592.5" fill="#000" font-size="11px" text-anchor="middle">sep</text>
<line x1="254.5" y1="578" x2="254.5" y2="582" stroke="#ababab"/>
<text x="254.2" y="592.5" fill="#000" font-size="11px" text-anchor="middle">oct</text>
<line x1="288.5" y1="578" x2="288.5" y2="582" stroke="#ababab"/>
<text x="288.2" y="592.5" fill="#000" font-size="11px" text-anchor="middle">nov</text>
<line x1="315.5" y1="578" x2="315.5" y2="582" stroke="#ababab"/>
<text x="315.2" y="592.5" fill="#000" font-size="11px" text-anchor="middle">dic</text>
<line x1="341.5" y1="578" x2="341.5" y2="582" stroke="#ababab"/>
<text x="341.0" y="592.5" fill="#000" font-size="12px" font-weight="bold" text-anchor="middle" textLength="27" lengthAdjust="spacingAndGlyphs">2012</text>
<line x1="375.5" y1="578" x2="375.5" y2="582" stroke="#ababab"/>
<text x="375.2" y="592.5" fill="#000" font-size="11px" text-anchor="middle">feb</text>
<line x1="402.5" y1="578" x2="402.5" y2="582" stroke="#ababab"/>
<text x="402.2" y="592.5" fill="#000" font-size="11px" text-anchor="middle">mar</text>
<line x1="429.5" y1="578" x2="429.5" y2="582" stroke="#ababab"/>
<text x="429.2" y="592.5" fill="#000" font-size="11px" text-anchor="middle">abr</text>
<line x1="462.5" y1="578" x2="462.5" y2="582" stroke="#ababab"/>
<text x="462.2" y="592.5" fill="#000" font-size="11px" text-anchor="middle">may</text>
<line x1="489.5" y1="578" x2="489.5" y2="582" stroke="#ababab"/>
<text x="489.2" y="592.5" fill="#000" font-size="11px" text-anchor="middle">jun</text>
<line x1="516.5" y1="578" x2="516.5" y2="582" stroke="#ababab"/>
<text x="516.2" y="592.5" fill="#000" font-size="11px" text-anchor="middle">jul</text>
<line x1="550.5" y1="578" x2="550.5" y2="582" stroke="#ababab"/>
<text x="550.2" y="592.5" fill="#000" font-size="11px" text-anchor="middle">ago</text>
<line x1="577.5" y1="578" x2="577.5" y2="582" stroke="#ababab"/>
<text x="577.2" y="592.5" fill="#000" font-size="11px" text-anchor="middle">sep</text>
<line x1="604.5" y1="578" x2="604.5" y2="582" stroke="#ababab"/>
<text x="604.2" y="592.5" fill="#000" font-size="11px" text-anchor="middle">oct</text>
<line x1="637.5" y1="578" x2="637.5" y2="582" stroke="#ababab"/>
<text x="637.2" y="592.5" fill="#000" font-size="11px" text-anchor="middle">nov</text>
<line x1="664.5" y1="578" x2="664.5" y2="582" stroke="#ababab"/>
<text x="664.2" y="592.5" fill="#000" font-size="11px" text-anchor="middle">dic</text>
<line x1="698.5" y1="578" x2="698.5" y2="582" stroke="#ababab"/>
<text x="698.0" y="592.5" fill="#000" font-size="12px" font-weight="bold" text-anchor="middle" textLength="27" lengthAdjust="spacingAndGlyphs">2013</text>
<line x1="724.5" y1="578" x2="724.5" y2="582" stroke="#ababab"/>
<text x="724.2" y="592.5" fill="#000" font-size="11px" text-anchor="middle">feb</text>
</svg></body></html>
